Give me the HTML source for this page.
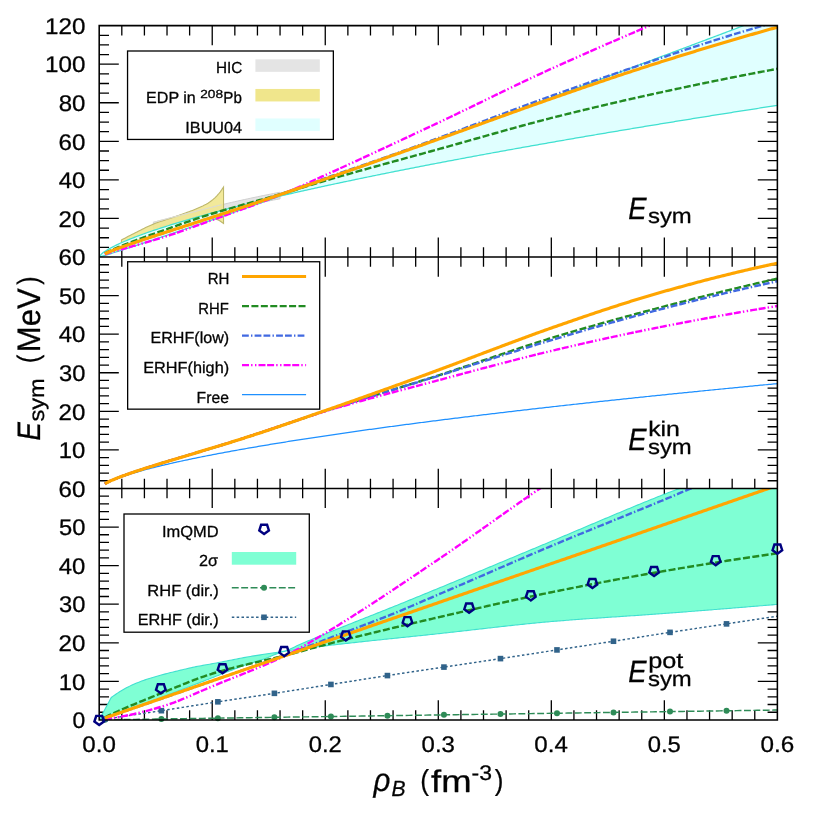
<!DOCTYPE html>
<html>
<head>
<meta charset="utf-8">
<title>Symmetry energy</title>
<style>html,body{margin:0;padding:0;background:#fff;}svg{display:block;}text{font-family:"Liberation Sans",sans-serif;text-rendering:geometricPrecision;}</style>
</head>
<body>
<svg width="817" height="817" viewBox="0 0 817 817" font-family="'Liberation Sans', sans-serif">
<rect width="817" height="817" fill="#fff"/>
<defs>
<clipPath id="c0"><rect x="99.20" y="25.64" width="678.18" height="231.40"/></clipPath>
<clipPath id="c1"><rect x="99.20" y="257.04" width="678.18" height="231.42"/></clipPath>
<clipPath id="c2"><rect x="99.20" y="488.46" width="678.18" height="231.49"/></clipPath>
</defs>
<path d="M121.81,257.04 v-9.80 M121.81,25.64 v9.80 M144.41,257.04 v-9.80 M144.41,25.64 v9.80 M167.02,257.04 v-9.80 M167.02,25.64 v9.80 M189.62,257.04 v-9.80 M189.62,25.64 v9.80 M212.23,257.04 v-19.60 M212.23,25.64 v19.60 M234.84,257.04 v-9.80 M234.84,25.64 v9.80 M257.44,257.04 v-9.80 M257.44,25.64 v9.80 M280.05,257.04 v-9.80 M280.05,25.64 v9.80 M302.65,257.04 v-9.80 M302.65,25.64 v9.80 M325.26,257.04 v-19.60 M325.26,25.64 v19.60 M347.87,257.04 v-9.80 M347.87,25.64 v9.80 M370.47,257.04 v-9.80 M370.47,25.64 v9.80 M393.08,257.04 v-9.80 M393.08,25.64 v9.80 M415.68,257.04 v-9.80 M415.68,25.64 v9.80 M438.29,257.04 v-19.60 M438.29,25.64 v19.60 M460.90,257.04 v-9.80 M460.90,25.64 v9.80 M483.50,257.04 v-9.80 M483.50,25.64 v9.80 M506.11,257.04 v-9.80 M506.11,25.64 v9.80 M528.71,257.04 v-9.80 M528.71,25.64 v9.80 M551.32,257.04 v-19.60 M551.32,25.64 v19.60 M573.93,257.04 v-9.80 M573.93,25.64 v9.80 M596.53,257.04 v-9.80 M596.53,25.64 v9.80 M619.14,257.04 v-9.80 M619.14,25.64 v9.80 M641.74,257.04 v-9.80 M641.74,25.64 v9.80 M664.35,257.04 v-19.60 M664.35,25.64 v19.60 M686.96,257.04 v-9.80 M686.96,25.64 v9.80 M709.56,257.04 v-9.80 M709.56,25.64 v9.80 M732.17,257.04 v-9.80 M732.17,25.64 v9.80 M754.77,257.04 v-9.80 M754.77,25.64 v9.80 M99.20,247.40 h9.80 M777.38,247.40 h-9.80 M99.20,237.76 h9.80 M777.38,237.76 h-9.80 M99.20,228.12 h9.80 M777.38,228.12 h-9.80 M99.20,218.47 h19.60 M777.38,218.47 h-19.60 M99.20,208.83 h9.80 M777.38,208.83 h-9.80 M99.20,199.19 h9.80 M777.38,199.19 h-9.80 M99.20,189.55 h9.80 M777.38,189.55 h-9.80 M99.20,179.91 h19.60 M777.38,179.91 h-19.60 M99.20,170.26 h9.80 M777.38,170.26 h-9.80 M99.20,160.62 h9.80 M777.38,160.62 h-9.80 M99.20,150.98 h9.80 M777.38,150.98 h-9.80 M99.20,141.34 h19.60 M777.38,141.34 h-19.60 M99.20,131.70 h9.80 M777.38,131.70 h-9.80 M99.20,122.06 h9.80 M777.38,122.06 h-9.80 M99.20,112.41 h9.80 M777.38,112.41 h-9.80 M99.20,102.77 h19.60 M777.38,102.77 h-19.60 M99.20,93.13 h9.80 M777.38,93.13 h-9.80 M99.20,83.49 h9.80 M777.38,83.49 h-9.80 M99.20,73.85 h9.80 M777.38,73.85 h-9.80 M99.20,64.21 h19.60 M777.38,64.21 h-19.60 M99.20,54.56 h9.80 M777.38,54.56 h-9.80 M99.20,44.92 h9.80 M777.38,44.92 h-9.80 M99.20,35.28 h9.80 M777.38,35.28 h-9.80 M121.81,488.46 v-9.80 M121.81,257.04 v9.80 M144.41,488.46 v-9.80 M144.41,257.04 v9.80 M167.02,488.46 v-9.80 M167.02,257.04 v9.80 M189.62,488.46 v-9.80 M189.62,257.04 v9.80 M212.23,488.46 v-19.60 M212.23,257.04 v19.60 M234.84,488.46 v-9.80 M234.84,257.04 v9.80 M257.44,488.46 v-9.80 M257.44,257.04 v9.80 M280.05,488.46 v-9.80 M280.05,257.04 v9.80 M302.65,488.46 v-9.80 M302.65,257.04 v9.80 M325.26,488.46 v-19.60 M325.26,257.04 v19.60 M347.87,488.46 v-9.80 M347.87,257.04 v9.80 M370.47,488.46 v-9.80 M370.47,257.04 v9.80 M393.08,488.46 v-9.80 M393.08,257.04 v9.80 M415.68,488.46 v-9.80 M415.68,257.04 v9.80 M438.29,488.46 v-19.60 M438.29,257.04 v19.60 M460.90,488.46 v-9.80 M460.90,257.04 v9.80 M483.50,488.46 v-9.80 M483.50,257.04 v9.80 M506.11,488.46 v-9.80 M506.11,257.04 v9.80 M528.71,488.46 v-9.80 M528.71,257.04 v9.80 M551.32,488.46 v-19.60 M551.32,257.04 v19.60 M573.93,488.46 v-9.80 M573.93,257.04 v9.80 M596.53,488.46 v-9.80 M596.53,257.04 v9.80 M619.14,488.46 v-9.80 M619.14,257.04 v9.80 M641.74,488.46 v-9.80 M641.74,257.04 v9.80 M664.35,488.46 v-19.60 M664.35,257.04 v19.60 M686.96,488.46 v-9.80 M686.96,257.04 v9.80 M709.56,488.46 v-9.80 M709.56,257.04 v9.80 M732.17,488.46 v-9.80 M732.17,257.04 v9.80 M754.77,488.46 v-9.80 M754.77,257.04 v9.80 M99.20,480.75 h9.80 M777.38,480.75 h-9.80 M99.20,473.03 h9.80 M777.38,473.03 h-9.80 M99.20,465.32 h9.80 M777.38,465.32 h-9.80 M99.20,457.60 h9.80 M777.38,457.60 h-9.80 M99.20,449.89 h19.60 M777.38,449.89 h-19.60 M99.20,442.18 h9.80 M777.38,442.18 h-9.80 M99.20,434.46 h9.80 M777.38,434.46 h-9.80 M99.20,426.75 h9.80 M777.38,426.75 h-9.80 M99.20,419.03 h9.80 M777.38,419.03 h-9.80 M99.20,411.32 h19.60 M777.38,411.32 h-19.60 M99.20,403.61 h9.80 M777.38,403.61 h-9.80 M99.20,395.89 h9.80 M777.38,395.89 h-9.80 M99.20,388.18 h9.80 M777.38,388.18 h-9.80 M99.20,380.46 h9.80 M777.38,380.46 h-9.80 M99.20,372.75 h19.60 M777.38,372.75 h-19.60 M99.20,365.04 h9.80 M777.38,365.04 h-9.80 M99.20,357.32 h9.80 M777.38,357.32 h-9.80 M99.20,349.61 h9.80 M777.38,349.61 h-9.80 M99.20,341.89 h9.80 M777.38,341.89 h-9.80 M99.20,334.18 h19.60 M777.38,334.18 h-19.60 M99.20,326.47 h9.80 M777.38,326.47 h-9.80 M99.20,318.75 h9.80 M777.38,318.75 h-9.80 M99.20,311.04 h9.80 M777.38,311.04 h-9.80 M99.20,303.32 h9.80 M777.38,303.32 h-9.80 M99.20,295.61 h19.60 M777.38,295.61 h-19.60 M99.20,287.90 h9.80 M777.38,287.90 h-9.80 M99.20,280.18 h9.80 M777.38,280.18 h-9.80 M99.20,272.47 h9.80 M777.38,272.47 h-9.80 M99.20,264.75 h9.80 M777.38,264.75 h-9.80 M121.81,719.95 v-9.80 M121.81,488.46 v9.80 M144.41,719.95 v-9.80 M144.41,488.46 v9.80 M167.02,719.95 v-9.80 M167.02,488.46 v9.80 M189.62,719.95 v-9.80 M189.62,488.46 v9.80 M212.23,719.95 v-19.60 M212.23,488.46 v19.60 M234.84,719.95 v-9.80 M234.84,488.46 v9.80 M257.44,719.95 v-9.80 M257.44,488.46 v9.80 M280.05,719.95 v-9.80 M280.05,488.46 v9.80 M302.65,719.95 v-9.80 M302.65,488.46 v9.80 M325.26,719.95 v-19.60 M325.26,488.46 v19.60 M347.87,719.95 v-9.80 M347.87,488.46 v9.80 M370.47,719.95 v-9.80 M370.47,488.46 v9.80 M393.08,719.95 v-9.80 M393.08,488.46 v9.80 M415.68,719.95 v-9.80 M415.68,488.46 v9.80 M438.29,719.95 v-19.60 M438.29,488.46 v19.60 M460.90,719.95 v-9.80 M460.90,488.46 v9.80 M483.50,719.95 v-9.80 M483.50,488.46 v9.80 M506.11,719.95 v-9.80 M506.11,488.46 v9.80 M528.71,719.95 v-9.80 M528.71,488.46 v9.80 M551.32,719.95 v-19.60 M551.32,488.46 v19.60 M573.93,719.95 v-9.80 M573.93,488.46 v9.80 M596.53,719.95 v-9.80 M596.53,488.46 v9.80 M619.14,719.95 v-9.80 M619.14,488.46 v9.80 M641.74,719.95 v-9.80 M641.74,488.46 v9.80 M664.35,719.95 v-19.60 M664.35,488.46 v19.60 M686.96,719.95 v-9.80 M686.96,488.46 v9.80 M709.56,719.95 v-9.80 M709.56,488.46 v9.80 M732.17,719.95 v-9.80 M732.17,488.46 v9.80 M754.77,719.95 v-9.80 M754.77,488.46 v9.80 M99.20,712.23 h9.80 M777.38,712.23 h-9.80 M99.20,704.52 h9.80 M777.38,704.52 h-9.80 M99.20,696.80 h9.80 M777.38,696.80 h-9.80 M99.20,689.08 h9.80 M777.38,689.08 h-9.80 M99.20,681.37 h19.60 M777.38,681.37 h-19.60 M99.20,673.65 h9.80 M777.38,673.65 h-9.80 M99.20,665.94 h9.80 M777.38,665.94 h-9.80 M99.20,658.22 h9.80 M777.38,658.22 h-9.80 M99.20,650.50 h9.80 M777.38,650.50 h-9.80 M99.20,642.79 h19.60 M777.38,642.79 h-19.60 M99.20,635.07 h9.80 M777.38,635.07 h-9.80 M99.20,627.35 h9.80 M777.38,627.35 h-9.80 M99.20,619.64 h9.80 M777.38,619.64 h-9.80 M99.20,611.92 h9.80 M777.38,611.92 h-9.80 M99.20,604.21 h19.60 M777.38,604.21 h-19.60 M99.20,596.49 h9.80 M777.38,596.49 h-9.80 M99.20,588.77 h9.80 M777.38,588.77 h-9.80 M99.20,581.06 h9.80 M777.38,581.06 h-9.80 M99.20,573.34 h9.80 M777.38,573.34 h-9.80 M99.20,565.62 h19.60 M777.38,565.62 h-19.60 M99.20,557.91 h9.80 M777.38,557.91 h-9.80 M99.20,550.19 h9.80 M777.38,550.19 h-9.80 M99.20,542.47 h9.80 M777.38,542.47 h-9.80 M99.20,534.76 h9.80 M777.38,534.76 h-9.80 M99.20,527.04 h19.60 M777.38,527.04 h-19.60 M99.20,519.33 h9.80 M777.38,519.33 h-9.80 M99.20,511.61 h9.80 M777.38,511.61 h-9.80 M99.20,503.89 h9.80 M777.38,503.89 h-9.80 M99.20,496.18 h9.80 M777.38,496.18 h-9.80" stroke="#000" stroke-width="1.30" fill="none"/>
<path d="M153.34,222.33 L156.59,221.47 L159.84,220.62 L163.09,219.76 L166.34,218.91 L169.59,218.07 L172.83,217.22 L176.08,216.38 L179.33,215.53 L182.58,214.69 L185.83,213.86 L189.08,213.02 L192.33,212.19 L195.58,211.35 L198.83,210.51 L202.07,209.67 L205.32,208.83 L208.57,208.00 L211.82,207.18 L215.07,206.36 L218.32,205.56 L221.57,204.77 L224.82,204.00 L228.07,203.23 L231.31,202.48 L234.56,201.74 L237.81,201.01 L241.06,200.29 L244.31,199.57 L247.56,198.87 L250.81,198.17 L254.06,197.48 L257.31,196.80 L260.55,196.12 L263.80,195.46 L267.05,194.80 L270.30,194.15 L273.55,193.51 L276.80,192.87 L280.05,192.25 L280.05,198.80 L276.80,199.41 L273.55,200.03 L270.30,200.66 L267.05,201.30 L263.80,201.95 L260.55,202.61 L257.31,203.27 L254.06,203.95 L250.81,204.63 L247.56,205.32 L244.31,206.03 L241.06,206.74 L237.81,207.47 L234.56,208.20 L231.31,208.94 L228.07,209.70 L224.82,210.46 L221.57,211.23 L218.32,212.01 L215.07,212.81 L211.82,213.62 L208.57,214.44 L205.32,215.26 L202.07,216.09 L198.83,216.92 L195.58,217.74 L192.33,218.57 L189.08,219.38 L185.83,220.19 L182.58,221.01 L179.33,221.82 L176.08,222.63 L172.83,223.44 L169.59,224.25 L166.34,225.06 L163.09,225.87 L159.84,226.69 L156.59,227.50 L153.34,228.31Z" fill="#e4e4e4" stroke="#cfcfcf" stroke-width="1" clip-path="url(#c0)"/>
<path d="M121.42,239.97 L123.15,239.05 L124.88,238.14 L126.61,237.23 L128.34,236.33 L130.08,235.44 L131.81,234.57 L133.54,233.69 L135.27,232.81 L137.00,231.93 L138.73,231.04 L140.46,230.17 L142.19,229.29 L143.92,228.44 L145.65,227.59 L147.38,226.77 L149.11,225.97 L150.84,225.20 L152.57,224.46 L154.30,223.76 L156.04,223.09 L157.77,222.45 L159.50,221.84 L161.23,221.25 L162.96,220.68 L164.69,220.11 L166.42,219.55 L168.15,219.00 L169.88,218.44 L171.61,217.88 L173.34,217.30 L175.07,216.70 L176.80,216.09 L178.53,215.47 L180.27,214.86 L182.00,214.25 L183.73,213.64 L185.46,213.02 L187.19,212.39 L188.92,211.76 L190.65,211.10 L192.38,210.43 L194.11,209.74 L195.84,209.03 L197.57,208.29 L199.30,207.53 L201.03,206.75 L202.76,205.95 L204.50,205.09 L206.23,204.17 L207.96,203.17 L209.69,202.05 L211.42,200.79 L213.15,199.37 L214.88,197.80 L216.61,196.10 L218.34,194.24 L220.07,192.10 L221.80,189.67 L223.53,187.04 L223.53,223.49 L221.80,222.20 L220.07,221.03 L218.34,220.08 L216.61,219.43 L214.88,219.16 L213.15,218.99 L211.42,218.85 L209.69,218.74 L207.96,218.68 L206.23,218.67 L204.50,218.74 L202.76,218.90 L201.03,219.13 L199.30,219.43 L197.57,219.77 L195.84,220.15 L194.11,220.54 L192.38,220.94 L190.65,221.34 L188.92,221.71 L187.19,222.11 L185.46,222.54 L183.73,222.99 L182.00,223.47 L180.27,223.97 L178.53,224.49 L176.80,225.02 L175.07,225.56 L173.34,226.10 L171.61,226.66 L169.88,227.21 L168.15,227.76 L166.42,228.30 L164.69,228.85 L162.96,229.41 L161.23,229.97 L159.50,230.55 L157.77,231.13 L156.04,231.71 L154.30,232.31 L152.57,232.91 L150.84,233.52 L149.11,234.13 L147.38,234.75 L145.65,235.38 L143.92,236.01 L142.19,236.65 L140.46,237.29 L138.73,237.95 L137.00,238.61 L135.27,239.28 L133.54,239.96 L131.81,240.64 L130.08,241.33 L128.34,242.03 L126.61,242.74 L124.88,243.45 L123.15,244.17 L121.42,244.89Z" fill="#f0e68c" fill-opacity="0.88" stroke="#bdb76b" stroke-width="1.1" clip-path="url(#c0)"/>
<path d="M153.34,222.33 L156.59,221.47 L159.84,220.62 L163.09,219.76 L166.34,218.91 L169.59,218.07 L172.83,217.22 L176.08,216.38 L179.33,215.53 L182.58,214.69 L185.83,213.86 L189.08,213.02 L192.33,212.19 L195.58,211.35 L198.83,210.51 L202.07,209.67 L205.32,208.83 L208.57,208.00 L211.82,207.18 L215.07,206.36 L218.32,205.56 L221.57,204.77" fill="none" stroke="#dcdcd2" stroke-width="1.1" clip-path="url(#c0)"/>
<path d="M99.20,257.04 L100.90,256.59 L102.60,256.10 L104.30,255.60 L106.00,255.10 L107.70,254.58 L109.40,254.06 L111.10,253.54 L112.80,253.01 L114.50,252.48 L116.20,251.95 L117.90,251.42 L119.60,250.88 L121.30,250.34 L123.00,249.80 L124.70,249.25 L126.40,248.70 L128.09,248.16 L129.79,247.61 L131.49,247.06 L133.19,246.50 L134.89,245.95 L136.59,245.40 L138.29,244.84 L139.99,244.28 L141.69,243.72 L143.39,243.16 L145.09,242.60 L146.79,242.04 L148.49,241.48 L150.19,240.91 L151.89,240.35 L153.59,239.78 L155.29,239.22 L156.99,238.65 L158.69,238.08 L160.39,237.51 L162.09,236.94 L163.79,236.37 L165.49,235.80 L167.19,235.23 L168.89,234.65 L170.59,234.08 L172.29,233.50 L173.99,232.93 L175.69,232.35 L177.39,231.78 L179.09,231.20 L180.79,230.62 L182.49,230.04 L184.18,229.47 L185.88,228.89 L187.58,228.31 L189.28,227.73 L190.98,227.15 L192.68,226.56 L194.38,225.98 L196.08,225.40 L197.78,224.82 L199.48,224.23 L201.18,223.65 L202.88,223.06 L204.58,222.48 L206.28,221.89 L207.98,221.31 L209.68,220.72 L211.38,220.13 L213.08,219.55 L214.78,218.96 L216.48,218.37 L218.18,217.78 L219.88,217.19 L221.58,216.60 L223.28,216.01 L224.98,215.42 L226.68,214.83 L228.38,214.24 L230.08,213.65 L231.78,213.06 L233.48,212.47 L235.18,211.87 L236.88,211.28 L238.58,210.69 L240.28,210.09 L241.97,209.50 L243.67,208.90 L245.37,208.31 L247.07,207.71 L248.77,207.12 L250.47,206.52 L252.17,205.93 L253.87,205.33 L255.57,204.73 L257.27,204.14 L258.97,203.54 L260.67,202.94 L262.37,202.34 L264.07,201.74 L265.77,201.15 L267.47,200.55 L269.17,199.95 L270.87,199.35 L272.57,198.75 L274.27,198.15 L275.97,197.55 L277.67,196.95 L279.37,196.35 L281.07,195.74 L282.77,195.14 L284.47,194.54 L286.17,193.94 L287.87,193.34 L289.57,192.73 L291.27,192.13 L292.97,191.53 L294.67,190.92 L296.37,190.32 L298.06,189.72 L299.76,189.11 L301.46,188.51 L303.16,187.90 L304.86,187.30 L306.56,186.69 L308.26,186.09 L309.96,185.48 L311.66,184.87 L313.36,184.27 L315.06,183.66 L316.76,183.05 L318.46,182.45 L320.16,181.84 L321.86,181.23 L323.56,180.62 L325.26,180.02 L326.96,179.41 L328.66,178.80 L330.36,178.19 L332.06,177.58 L333.76,176.97 L335.46,176.36 L337.16,175.75 L338.86,175.14 L340.56,174.53 L342.26,173.92 L343.96,173.31 L345.66,172.70 L347.36,172.09 L349.06,171.48 L350.76,170.87 L352.46,170.26 L354.15,169.65 L355.85,169.04 L357.55,168.42 L359.25,167.81 L360.95,167.20 L362.65,166.59 L364.35,165.97 L366.05,165.36 L367.75,164.75 L369.45,164.13 L371.15,163.52 L372.85,162.91 L374.55,162.29 L376.25,161.68 L377.95,161.06 L379.65,160.45 L381.35,159.83 L383.05,159.22 L384.75,158.60 L386.45,157.99 L388.15,157.37 L389.85,156.76 L391.55,156.14 L393.25,155.53 L394.95,154.91 L396.65,154.29 L398.35,153.68 L400.05,153.06 L401.75,152.44 L403.45,151.83 L405.15,151.21 L406.85,150.59 L408.55,149.97 L410.24,149.36 L411.94,148.74 L413.64,148.12 L415.34,147.50 L417.04,146.88 L418.74,146.26 L420.44,145.65 L422.14,145.03 L423.84,144.41 L425.54,143.79 L427.24,143.17 L428.94,142.55 L430.64,141.93 L432.34,141.31 L434.04,140.69 L435.74,140.07 L437.44,139.45 L439.14,138.83 L440.84,138.21 L442.54,137.59 L444.24,136.97 L445.94,136.34 L447.64,135.72 L449.34,135.10 L451.04,134.48 L452.74,133.86 L454.44,133.24 L456.14,132.61 L457.84,131.99 L459.54,131.37 L461.24,130.75 L462.94,130.12 L464.64,129.50 L466.34,128.88 L468.03,128.26 L469.73,127.63 L471.43,127.01 L473.13,126.39 L474.83,125.76 L476.53,125.14 L478.23,124.51 L479.93,123.89 L481.63,123.27 L483.33,122.64 L485.03,122.02 L486.73,121.39 L488.43,120.77 L490.13,120.14 L491.83,119.52 L493.53,118.89 L495.23,118.27 L496.93,117.64 L498.63,117.02 L500.33,116.39 L502.03,115.76 L503.73,115.14 L505.43,114.51 L507.13,113.89 L508.83,113.26 L510.53,112.63 L512.23,112.01 L513.93,111.38 L515.63,110.75 L517.33,110.13 L519.03,109.50 L520.73,108.87 L522.43,108.24 L524.12,107.62 L525.82,106.99 L527.52,106.36 L529.22,105.73 L530.92,105.11 L532.62,104.48 L534.32,103.85 L536.02,103.22 L537.72,102.59 L539.42,101.96 L541.12,101.34 L542.82,100.71 L544.52,100.08 L546.22,99.45 L547.92,98.82 L549.62,98.19 L551.32,97.56 L553.02,96.93 L554.72,96.30 L556.42,95.67 L558.12,95.04 L559.82,94.41 L561.52,93.78 L563.22,93.15 L564.92,92.52 L566.62,91.89 L568.32,91.26 L570.02,90.63 L571.72,90.00 L573.42,89.37 L575.12,88.74 L576.82,88.10 L578.52,87.47 L580.21,86.84 L581.91,86.21 L583.61,85.58 L585.31,84.95 L587.01,84.31 L588.71,83.68 L590.41,83.05 L592.11,82.42 L593.81,81.79 L595.51,81.15 L597.21,80.52 L598.91,79.89 L600.61,79.26 L602.31,78.62 L604.01,77.99 L605.71,77.36 L607.41,76.72 L609.11,76.09 L610.81,75.46 L612.51,74.82 L614.21,74.19 L615.91,73.56 L617.61,72.92 L619.31,72.29 L621.01,71.65 L622.71,71.02 L624.41,70.39 L626.11,69.75 L627.81,69.12 L629.51,68.48 L631.21,67.85 L632.91,67.21 L634.61,66.58 L636.30,65.94 L638.00,65.31 L639.70,64.67 L641.40,64.04 L643.10,63.40 L644.80,62.77 L646.50,62.13 L648.20,61.50 L649.90,60.86 L651.60,60.23 L653.30,59.59 L655.00,58.95 L656.70,58.32 L658.40,57.68 L660.10,57.04 L661.80,56.41 L663.50,55.77 L665.20,55.14 L666.90,54.50 L668.60,53.86 L670.30,53.22 L672.00,52.59 L673.70,51.95 L675.40,51.31 L677.10,50.68 L678.80,50.04 L680.50,49.40 L682.20,48.76 L683.90,48.13 L685.60,47.49 L687.30,46.85 L689.00,46.21 L690.70,45.57 L692.40,44.94 L694.09,44.30 L695.79,43.66 L697.49,43.02 L699.19,42.38 L700.89,41.75 L702.59,41.11 L704.29,40.47 L705.99,39.83 L707.69,39.19 L709.39,38.55 L711.09,37.91 L712.79,37.27 L714.49,36.63 L716.19,35.99 L717.89,35.35 L719.59,34.72 L721.29,34.08 L722.99,33.44 L724.69,32.80 L726.39,32.16 L728.09,31.52 L729.79,30.88 L731.49,30.24 L733.19,29.60 L734.89,28.96 L736.59,28.32 L738.29,27.67 L739.99,27.03 L741.69,26.39 L743.39,25.75 L745.09,25.11 L746.79,24.47 L748.49,23.83 L750.18,23.19 L751.88,22.55 L753.58,21.91 L755.28,21.27 L756.98,20.62 L758.68,19.98 L760.38,19.34 L762.08,18.70 L763.78,18.06 L765.48,17.42 L767.18,16.77 L768.88,16.13 L770.58,15.49 L772.28,14.85 L773.98,14.21 L775.68,13.56 L777.38,12.92 L777.38,105.35 L775.68,105.61 L773.98,105.88 L772.28,106.14 L770.58,106.40 L768.88,106.67 L767.18,106.93 L765.48,107.19 L763.78,107.46 L762.08,107.72 L760.38,107.99 L758.68,108.25 L756.98,108.51 L755.28,108.78 L753.58,109.04 L751.88,109.31 L750.18,109.58 L748.49,109.84 L746.79,110.11 L745.09,110.37 L743.39,110.64 L741.69,110.91 L739.99,111.17 L738.29,111.44 L736.59,111.71 L734.89,111.98 L733.19,112.24 L731.49,112.51 L729.79,112.78 L728.09,113.05 L726.39,113.32 L724.69,113.59 L722.99,113.85 L721.29,114.12 L719.59,114.39 L717.89,114.66 L716.19,114.93 L714.49,115.20 L712.79,115.47 L711.09,115.74 L709.39,116.02 L707.69,116.29 L705.99,116.56 L704.29,116.83 L702.59,117.10 L700.89,117.37 L699.19,117.65 L697.49,117.92 L695.79,118.19 L694.09,118.46 L692.40,118.74 L690.70,119.01 L689.00,119.29 L687.30,119.56 L685.60,119.83 L683.90,120.11 L682.20,120.38 L680.50,120.66 L678.80,120.93 L677.10,121.21 L675.40,121.48 L673.70,121.76 L672.00,122.04 L670.30,122.31 L668.60,122.59 L666.90,122.87 L665.20,123.14 L663.50,123.42 L661.80,123.70 L660.10,123.98 L658.40,124.26 L656.70,124.53 L655.00,124.81 L653.30,125.09 L651.60,125.37 L649.90,125.65 L648.20,125.93 L646.50,126.21 L644.80,126.49 L643.10,126.77 L641.40,127.05 L639.70,127.34 L638.00,127.62 L636.30,127.90 L634.61,128.18 L632.91,128.46 L631.21,128.75 L629.51,129.03 L627.81,129.31 L626.11,129.60 L624.41,129.88 L622.71,130.16 L621.01,130.45 L619.31,130.73 L617.61,131.02 L615.91,131.30 L614.21,131.59 L612.51,131.87 L610.81,132.16 L609.11,132.45 L607.41,132.73 L605.71,133.02 L604.01,133.31 L602.31,133.60 L600.61,133.88 L598.91,134.17 L597.21,134.46 L595.51,134.75 L593.81,135.04 L592.11,135.33 L590.41,135.62 L588.71,135.91 L587.01,136.20 L585.31,136.49 L583.61,136.78 L581.91,137.07 L580.21,137.36 L578.52,137.65 L576.82,137.95 L575.12,138.24 L573.42,138.53 L571.72,138.83 L570.02,139.12 L568.32,139.41 L566.62,139.71 L564.92,140.00 L563.22,140.30 L561.52,140.59 L559.82,140.89 L558.12,141.18 L556.42,141.48 L554.72,141.78 L553.02,142.07 L551.32,142.37 L549.62,142.67 L547.92,142.97 L546.22,143.26 L544.52,143.56 L542.82,143.86 L541.12,144.16 L539.42,144.46 L537.72,144.76 L536.02,145.06 L534.32,145.36 L532.62,145.66 L530.92,145.97 L529.22,146.27 L527.52,146.57 L525.82,146.87 L524.12,147.18 L522.43,147.48 L520.73,147.78 L519.03,148.09 L517.33,148.39 L515.63,148.70 L513.93,149.00 L512.23,149.31 L510.53,149.61 L508.83,149.92 L507.13,150.23 L505.43,150.53 L503.73,150.84 L502.03,151.15 L500.33,151.46 L498.63,151.77 L496.93,152.08 L495.23,152.39 L493.53,152.70 L491.83,153.01 L490.13,153.32 L488.43,153.63 L486.73,153.94 L485.03,154.25 L483.33,154.57 L481.63,154.88 L479.93,155.19 L478.23,155.51 L476.53,155.82 L474.83,156.14 L473.13,156.45 L471.43,156.77 L469.73,157.08 L468.03,157.40 L466.34,157.72 L464.64,158.03 L462.94,158.35 L461.24,158.67 L459.54,158.99 L457.84,159.31 L456.14,159.63 L454.44,159.95 L452.74,160.27 L451.04,160.59 L449.34,160.91 L447.64,161.23 L445.94,161.56 L444.24,161.88 L442.54,162.20 L440.84,162.53 L439.14,162.85 L437.44,163.18 L435.74,163.50 L434.04,163.83 L432.34,164.16 L430.64,164.48 L428.94,164.81 L427.24,165.14 L425.54,165.47 L423.84,165.80 L422.14,166.13 L420.44,166.46 L418.74,166.79 L417.04,167.12 L415.34,167.45 L413.64,167.79 L411.94,168.12 L410.24,168.45 L408.55,168.79 L406.85,169.12 L405.15,169.46 L403.45,169.79 L401.75,170.13 L400.05,170.47 L398.35,170.81 L396.65,171.14 L394.95,171.48 L393.25,171.82 L391.55,172.16 L389.85,172.50 L388.15,172.84 L386.45,173.19 L384.75,173.53 L383.05,173.87 L381.35,174.22 L379.65,174.56 L377.95,174.91 L376.25,175.25 L374.55,175.60 L372.85,175.95 L371.15,176.29 L369.45,176.64 L367.75,176.99 L366.05,177.34 L364.35,177.69 L362.65,178.04 L360.95,178.40 L359.25,178.75 L357.55,179.10 L355.85,179.46 L354.15,179.81 L352.46,180.17 L350.76,180.52 L349.06,180.88 L347.36,181.24 L345.66,181.60 L343.96,181.96 L342.26,182.32 L340.56,182.68 L338.86,183.04 L337.16,183.40 L335.46,183.76 L333.76,184.13 L332.06,184.49 L330.36,184.86 L328.66,185.23 L326.96,185.59 L325.26,185.96 L323.56,186.33 L321.86,186.70 L320.16,187.07 L318.46,187.44 L316.76,187.82 L315.06,188.19 L313.36,188.56 L311.66,188.94 L309.96,189.32 L308.26,189.69 L306.56,190.07 L304.86,190.45 L303.16,190.83 L301.46,191.21 L299.76,191.59 L298.06,191.98 L296.37,192.36 L294.67,192.75 L292.97,193.13 L291.27,193.52 L289.57,193.91 L287.87,194.30 L286.17,194.69 L284.47,195.08 L282.77,195.47 L281.07,195.87 L279.37,196.26 L277.67,196.66 L275.97,197.06 L274.27,197.45 L272.57,197.85 L270.87,198.26 L269.17,198.66 L267.47,199.06 L265.77,199.47 L264.07,199.87 L262.37,200.28 L260.67,200.69 L258.97,201.10 L257.27,201.51 L255.57,201.92 L253.87,202.34 L252.17,202.75 L250.47,203.17 L248.77,203.59 L247.07,204.01 L245.37,204.43 L243.67,204.85 L241.97,205.28 L240.28,205.70 L238.58,206.13 L236.88,206.56 L235.18,206.99 L233.48,207.42 L231.78,207.86 L230.08,208.29 L228.38,208.73 L226.68,209.17 L224.98,209.61 L223.28,210.05 L221.58,210.50 L219.88,210.95 L218.18,211.39 L216.48,211.85 L214.78,212.30 L213.08,212.75 L211.38,213.21 L209.68,213.67 L207.98,214.13 L206.28,214.60 L204.58,215.06 L202.88,215.53 L201.18,216.00 L199.48,216.47 L197.78,216.95 L196.08,217.43 L194.38,217.91 L192.68,218.39 L190.98,218.88 L189.28,219.37 L187.58,219.86 L185.88,220.35 L184.18,220.85 L182.49,221.35 L180.79,221.86 L179.09,222.36 L177.39,222.87 L175.69,223.39 L173.99,223.91 L172.29,224.43 L170.59,224.95 L168.89,225.48 L167.19,226.02 L165.49,226.55 L163.79,227.09 L162.09,227.64 L160.39,228.19 L158.69,228.75 L156.99,229.31 L155.29,229.87 L153.59,230.44 L151.89,231.02 L150.19,231.60 L148.49,232.19 L146.79,232.78 L145.09,233.39 L143.39,233.99 L141.69,234.61 L139.99,235.23 L138.29,235.86 L136.59,236.50 L134.89,237.15 L133.19,237.81 L131.49,238.48 L129.79,239.16 L128.09,239.85 L126.40,240.55 L124.70,241.27 L123.00,242.00 L121.30,242.75 L119.60,243.52 L117.90,244.31 L116.20,245.12 L114.50,245.96 L112.80,246.82 L111.10,247.72 L109.40,248.66 L107.70,249.65 L106.00,250.71 L104.30,251.85 L102.60,253.11 L100.90,254.61 L99.20,257.04Z" fill="#e0ffff" stroke="#40e0d0" stroke-width="1.25" clip-path="url(#c0)"/>
<path d="M99.20,719.95 L100.90,716.79 L102.60,713.63 L104.30,710.47 L106.00,707.31 L107.70,704.14 L109.40,700.98 L111.10,697.82 L111.29,697.46 L112.80,696.38 L114.50,695.19 L116.20,694.03 L117.90,692.91 L119.60,691.82 L121.30,690.77 L123.00,689.76 L124.70,688.78 L126.40,687.85 L128.09,686.97 L129.79,686.13 L131.49,685.32 L133.19,684.55 L134.89,683.80 L136.59,683.09 L138.29,682.40 L139.99,681.73 L141.69,681.09 L143.39,680.47 L145.09,679.87 L146.79,679.28 L148.49,678.72 L150.19,678.19 L151.89,677.67 L153.59,677.16 L155.29,676.67 L156.99,676.20 L158.69,675.73 L160.39,675.26 L162.09,674.81 L163.79,674.35 L165.49,673.90 L167.19,673.46 L168.89,673.02 L170.59,672.59 L172.29,672.17 L173.99,671.76 L175.69,671.35 L177.39,670.94 L179.09,670.53 L180.79,670.13 L182.49,669.73 L184.18,669.33 L185.88,668.93 L187.58,668.54 L189.28,668.15 L190.98,667.76 L192.68,667.39 L194.38,667.02 L196.08,666.66 L197.78,666.32 L199.48,665.99 L201.18,665.67 L202.88,665.36 L204.58,665.06 L206.28,664.76 L207.98,664.47 L209.68,664.17 L211.38,663.88 L213.08,663.58 L214.78,663.27 L216.48,662.95 L218.18,662.63 L219.88,662.30 L221.58,661.98 L223.28,661.65 L224.98,661.32 L226.68,660.99 L228.38,660.65 L230.08,660.32 L231.78,659.99 L233.48,659.66 L235.18,659.33 L236.88,659.00 L238.58,658.66 L240.28,658.33 L241.97,657.99 L243.67,657.66 L245.37,657.34 L247.07,657.02 L248.77,656.73 L250.47,656.44 L252.17,656.16 L253.87,655.89 L255.57,655.63 L257.27,655.37 L258.97,655.11 L260.67,654.85 L262.37,654.58 L264.07,654.32 L265.77,654.05 L267.47,653.79 L269.17,653.55 L270.87,653.32 L272.57,653.08 L274.27,652.85 L275.97,652.60 L277.67,652.33 L279.37,652.05 L281.07,651.73 L282.77,651.39 L284.47,651.00 L286.17,650.52 L287.87,649.93 L289.57,649.27 L291.27,648.53 L292.97,647.75 L294.67,646.93 L296.37,646.10 L298.06,645.27 L299.76,644.46 L301.46,643.69 L303.16,642.96 L304.86,642.25 L306.56,641.55 L308.26,640.84 L309.96,640.14 L311.66,639.45 L313.36,638.75 L315.06,638.06 L316.76,637.36 L318.46,636.67 L320.16,635.98 L321.86,635.29 L323.56,634.60 L325.26,633.91 L326.96,633.22 L328.66,632.53 L330.36,631.85 L332.06,631.16 L333.76,630.47 L335.46,629.79 L337.16,629.11 L338.86,628.42 L340.56,627.74 L342.26,627.06 L343.96,626.38 L345.66,625.69 L347.36,625.01 L349.06,624.33 L350.76,623.65 L352.46,622.98 L354.15,622.30 L355.85,621.62 L357.55,620.95 L359.25,620.28 L360.95,619.60 L362.65,618.93 L364.35,618.26 L366.05,617.59 L367.75,616.92 L369.45,616.24 L371.15,615.57 L372.85,614.90 L374.55,614.23 L376.25,613.56 L377.95,612.88 L379.65,612.21 L381.35,611.53 L383.05,610.86 L384.75,610.18 L386.45,609.50 L388.15,608.82 L389.85,608.13 L391.55,607.45 L393.25,606.77 L394.95,606.08 L396.65,605.39 L398.35,604.71 L400.05,604.02 L401.75,603.33 L403.45,602.64 L405.15,601.95 L406.85,601.26 L408.55,600.57 L410.24,599.88 L411.94,599.18 L413.64,598.49 L415.34,597.80 L417.04,597.10 L418.74,596.41 L420.44,595.71 L422.14,595.02 L423.84,594.32 L425.54,593.62 L427.24,592.93 L428.94,592.23 L430.64,591.53 L432.34,590.83 L434.04,590.13 L435.74,589.44 L437.44,588.74 L439.14,588.04 L440.84,587.34 L442.54,586.64 L444.24,585.94 L445.94,585.23 L447.64,584.53 L449.34,583.83 L451.04,583.13 L452.74,582.43 L454.44,581.72 L456.14,581.02 L457.84,580.31 L459.54,579.61 L461.24,578.90 L462.94,578.20 L464.64,577.49 L466.34,576.79 L468.03,576.08 L469.73,575.37 L471.43,574.67 L473.13,573.96 L474.83,573.25 L476.53,572.54 L478.23,571.84 L479.93,571.13 L481.63,570.42 L483.33,569.71 L485.03,569.00 L486.73,568.29 L488.43,567.58 L490.13,566.87 L491.83,566.16 L493.53,565.45 L495.23,564.74 L496.93,564.03 L498.63,563.32 L500.33,562.61 L502.03,561.90 L503.73,561.19 L505.43,560.48 L507.13,559.77 L508.83,559.06 L510.53,558.35 L512.23,557.64 L513.93,556.93 L515.63,556.22 L517.33,555.51 L519.03,554.80 L520.73,554.09 L522.43,553.38 L524.12,552.67 L525.82,551.96 L527.52,551.25 L529.22,550.54 L530.92,549.83 L532.62,549.12 L534.32,548.41 L536.02,547.70 L537.72,546.99 L539.42,546.28 L541.12,545.57 L542.82,544.86 L544.52,544.15 L546.22,543.44 L547.92,542.73 L549.62,542.02 L551.32,541.32 L553.02,540.61 L554.72,539.90 L556.42,539.19 L558.12,538.48 L559.82,537.76 L561.52,537.05 L563.22,536.34 L564.92,535.62 L566.62,534.91 L568.32,534.19 L570.02,533.47 L571.72,532.76 L573.42,532.04 L575.12,531.32 L576.82,530.60 L578.52,529.88 L580.21,529.16 L581.91,528.44 L583.61,527.72 L585.31,527.00 L587.01,526.28 L588.71,525.56 L590.41,524.84 L592.11,524.12 L593.81,523.40 L595.51,522.68 L597.21,521.96 L598.91,521.24 L600.61,520.52 L602.31,519.80 L604.01,519.08 L605.71,518.37 L607.41,517.65 L609.11,516.93 L610.81,516.21 L612.51,515.50 L614.21,514.78 L615.91,514.07 L617.61,513.35 L619.31,512.64 L621.01,511.93 L622.71,511.22 L624.41,510.51 L626.11,509.80 L627.81,509.09 L629.51,508.39 L631.21,507.68 L632.91,506.98 L634.61,506.28 L636.30,505.57 L638.00,504.87 L639.70,504.18 L641.40,503.48 L643.10,502.78 L644.80,502.09 L646.50,501.40 L648.20,500.71 L649.90,500.02 L651.60,499.33 L653.30,498.65 L655.00,497.97 L656.70,497.28 L658.40,496.61 L660.10,495.93 L661.80,495.25 L663.50,494.58 L665.20,493.91 L666.90,493.25 L668.60,492.60 L670.30,491.95 L672.00,491.31 L673.70,490.67 L675.40,490.03 L677.10,489.38 L678.80,488.73 L680.50,488.07 L682.20,487.42 L683.90,486.76 L685.60,486.10 L687.30,485.44 L689.00,484.78 L690.70,484.12 L692.40,483.46 L694.09,482.81 L695.79,482.15 L697.49,481.49 L699.19,480.82 L700.89,480.16 L702.59,479.50 L704.29,478.84 L705.99,478.18 L707.69,477.52 L709.39,476.85 L711.09,476.19 L712.79,475.52 L714.49,474.86 L716.19,474.20 L717.89,473.53 L719.59,472.86 L721.29,472.20 L722.99,471.53 L724.69,470.86 L726.39,470.20 L728.09,469.53 L729.79,468.86 L731.49,468.19 L733.19,467.52 L734.89,466.85 L736.59,466.18 L738.29,465.51 L739.99,464.83 L741.69,464.16 L743.39,463.49 L745.09,462.81 L746.79,462.14 L748.49,461.46 L750.18,460.79 L751.88,460.11 L753.58,459.43 L755.28,458.76 L756.98,458.08 L758.68,457.40 L760.38,456.72 L762.08,456.04 L763.78,455.36 L765.48,454.67 L767.18,453.99 L768.88,453.31 L770.58,452.62 L772.28,451.94 L773.98,451.25 L775.68,450.57 L777.38,449.88 L777.38,604.40 L775.68,604.54 L773.98,604.68 L772.28,604.83 L770.58,604.97 L768.88,605.11 L767.18,605.26 L765.48,605.40 L763.78,605.54 L762.08,605.68 L760.38,605.82 L758.68,605.96 L756.98,606.11 L755.28,606.25 L753.58,606.39 L751.88,606.53 L750.18,606.67 L748.49,606.81 L746.79,606.95 L745.09,607.09 L743.39,607.23 L741.69,607.37 L739.99,607.51 L738.29,607.64 L736.59,607.78 L734.89,607.92 L733.19,608.06 L731.49,608.20 L729.79,608.34 L728.09,608.47 L726.39,608.61 L724.69,608.75 L722.99,608.88 L721.29,609.02 L719.59,609.16 L717.89,609.29 L716.19,609.43 L714.49,609.57 L712.79,609.70 L711.09,609.84 L709.39,609.97 L707.69,610.11 L705.99,610.24 L704.29,610.37 L702.59,610.51 L700.89,610.64 L699.19,610.78 L697.49,610.91 L695.79,611.04 L694.09,611.18 L692.40,611.31 L690.70,611.44 L689.00,611.57 L687.30,611.71 L685.60,611.84 L683.90,611.97 L682.20,612.10 L680.50,612.23 L678.80,612.36 L677.10,612.49 L675.40,612.62 L673.70,612.75 L672.00,612.88 L670.30,613.01 L668.60,613.14 L666.90,613.27 L665.20,613.40 L663.50,613.53 L661.80,613.66 L660.10,613.78 L658.40,613.91 L656.70,614.03 L655.00,614.16 L653.30,614.28 L651.60,614.40 L649.90,614.52 L648.20,614.64 L646.50,614.76 L644.80,614.88 L643.10,615.00 L641.40,615.11 L639.70,615.23 L638.00,615.35 L636.30,615.46 L634.61,615.58 L632.91,615.69 L631.21,615.81 L629.51,615.92 L627.81,616.04 L626.11,616.15 L624.41,616.26 L622.71,616.38 L621.01,616.49 L619.31,616.60 L617.61,616.72 L615.91,616.83 L614.21,616.94 L612.51,617.06 L610.81,617.17 L609.11,617.28 L607.41,617.40 L605.71,617.51 L604.01,617.63 L602.31,617.74 L600.61,617.86 L598.91,617.97 L597.21,618.09 L595.51,618.21 L593.81,618.32 L592.11,618.44 L590.41,618.56 L588.71,618.68 L587.01,618.80 L585.31,618.92 L583.61,619.04 L581.91,619.16 L580.21,619.29 L578.52,619.41 L576.82,619.54 L575.12,619.66 L573.42,619.79 L571.72,619.92 L570.02,620.05 L568.32,620.18 L566.62,620.31 L564.92,620.45 L563.22,620.58 L561.52,620.72 L559.82,620.86 L558.12,620.99 L556.42,621.14 L554.72,621.28 L553.02,621.42 L551.32,621.57 L549.62,621.71 L547.92,621.86 L546.22,622.02 L544.52,622.17 L542.82,622.32 L541.12,622.48 L539.42,622.64 L537.72,622.80 L536.02,622.97 L534.32,623.13 L532.62,623.30 L530.92,623.47 L529.22,623.64 L527.52,623.81 L525.82,623.98 L524.12,624.15 L522.43,624.33 L520.73,624.51 L519.03,624.68 L517.33,624.86 L515.63,625.05 L513.93,625.23 L512.23,625.41 L510.53,625.59 L508.83,625.78 L507.13,625.97 L505.43,626.15 L503.73,626.34 L502.03,626.53 L500.33,626.72 L498.63,626.91 L496.93,627.10 L495.23,627.29 L493.53,627.48 L491.83,627.68 L490.13,627.87 L488.43,628.06 L486.73,628.26 L485.03,628.45 L483.33,628.64 L481.63,628.84 L479.93,629.03 L478.23,629.23 L476.53,629.42 L474.83,629.62 L473.13,629.81 L471.43,630.01 L469.73,630.20 L468.03,630.40 L466.34,630.59 L464.64,630.79 L462.94,630.98 L461.24,631.17 L459.54,631.37 L457.84,631.56 L456.14,631.75 L454.44,631.94 L452.74,632.13 L451.04,632.32 L449.34,632.51 L447.64,632.70 L445.94,632.89 L444.24,633.07 L442.54,633.26 L440.84,633.44 L439.14,633.63 L437.44,633.81 L435.74,633.99 L434.04,634.18 L432.34,634.36 L430.64,634.54 L428.94,634.72 L427.24,634.90 L425.54,635.08 L423.84,635.25 L422.14,635.43 L420.44,635.61 L418.74,635.79 L417.04,635.97 L415.34,636.14 L413.64,636.32 L411.94,636.50 L410.24,636.67 L408.55,636.85 L406.85,637.03 L405.15,637.20 L403.45,637.38 L401.75,637.56 L400.05,637.73 L398.35,637.91 L396.65,638.08 L394.95,638.26 L393.25,638.44 L391.55,638.61 L389.85,638.79 L388.15,638.97 L386.45,639.14 L384.75,639.32 L383.05,639.50 L381.35,639.68 L379.65,639.85 L377.95,640.03 L376.25,640.21 L374.55,640.39 L372.85,640.57 L371.15,640.75 L369.45,640.93 L367.75,641.11 L366.05,641.29 L364.35,641.47 L362.65,641.66 L360.95,641.84 L359.25,642.02 L357.55,642.21 L355.85,642.39 L354.15,642.58 L352.46,642.77 L350.76,642.95 L349.06,643.14 L347.36,643.33 L345.66,643.52 L343.96,643.71 L342.26,643.90 L340.56,644.10 L338.86,644.29 L337.16,644.48 L335.46,644.68 L333.76,644.87 L332.06,645.07 L330.36,645.27 L328.66,645.47 L326.96,645.67 L325.26,645.87 L323.56,646.08 L321.86,646.28 L320.16,646.49 L318.46,646.70 L316.76,646.91 L315.06,647.13 L313.36,647.35 L311.66,647.57 L309.96,647.79 L308.26,648.01 L306.56,648.24 L304.86,648.47 L303.16,648.70 L301.46,648.93 L299.76,649.14 L298.06,649.36 L296.37,649.57 L294.67,649.78 L292.97,650.00 L291.27,650.24 L289.57,650.49 L287.87,650.76 L286.17,651.06 L284.47,651.40 L282.77,651.78 L281.07,652.26 L279.37,652.82 L277.67,653.45 L275.97,654.13 L274.27,654.83 L272.57,655.56 L270.87,656.29 L269.17,657.00 L267.47,657.69 L265.77,658.34 L264.07,658.93 L262.37,659.50 L260.67,660.05 L258.97,660.59 L257.27,661.13 L255.57,661.65 L253.87,662.18 L252.17,662.72 L250.47,663.26 L248.77,663.81 L247.07,664.38 L245.37,664.96 L243.67,665.57 L241.97,666.19 L240.28,666.83 L238.58,667.48 L236.88,668.13 L235.18,668.79 L233.48,669.45 L231.78,670.12 L230.08,670.77 L228.38,671.43 L226.68,672.09 L224.98,672.76 L223.28,673.43 L221.58,674.10 L219.88,674.77 L218.18,675.44 L216.48,676.11 L214.78,676.77 L213.08,677.44 L211.38,678.10 L209.68,678.76 L207.98,679.42 L206.28,680.08 L204.58,680.74 L202.88,681.40 L201.18,682.06 L199.48,682.72 L197.78,683.38 L196.08,684.03 L194.38,684.69 L192.68,685.35 L190.98,686.00 L189.28,686.66 L187.58,687.31 L185.88,687.97 L184.18,688.62 L182.49,689.28 L180.79,689.93 L179.09,690.59 L177.39,691.24 L175.69,691.90 L173.99,692.55 L172.29,693.21 L170.59,693.86 L168.89,694.51 L167.19,695.16 L165.49,695.81 L163.79,696.46 L162.09,697.11 L160.39,697.75 L158.69,698.39 L156.99,699.03 L155.29,699.66 L153.59,700.29 L151.89,700.93 L150.19,701.56 L148.49,702.19 L146.79,702.82 L145.09,703.44 L143.39,704.07 L141.69,704.70 L139.99,705.32 L138.29,705.95 L136.59,706.57 L134.89,707.19 L133.19,707.81 L131.49,708.43 L129.79,709.05 L128.09,709.67 L126.40,710.28 L124.70,710.90 L123.00,711.51 L121.30,712.12 L119.60,712.73 L117.90,713.34 L116.20,713.95 L114.50,714.56 L112.80,715.16 L111.29,715.70 L111.10,715.77 L109.40,716.37 L107.70,716.97 L106.00,717.57 L104.30,718.17 L102.60,718.76 L100.90,719.36 L99.20,719.95Z" fill="#7fffd4" stroke="#40e0d0" stroke-width="1.1" clip-path="url(#c2)"/>
<path d="M104.85,253.34 L106.54,252.49 L108.22,251.67 L109.91,250.88 L111.59,250.11 L113.28,249.36 L114.96,248.62 L116.65,247.90 L118.34,247.19 L120.02,246.49 L121.71,245.80 L123.39,245.12 L125.08,244.44 L126.76,243.78 L128.45,243.12 L130.13,242.47 L131.82,241.82 L133.51,241.18 L135.19,240.54 L136.88,239.91 L138.56,239.28 L140.25,238.65 L141.93,238.03 L143.62,237.42 L145.30,236.80 L146.99,236.19 L148.68,235.58 L150.36,234.98 L152.05,234.37 L153.73,233.77 L155.42,233.17 L157.10,232.57 L158.79,231.98 L160.47,231.38 L162.16,230.79 L163.85,230.19 L165.53,229.60 L167.22,229.01 L168.90,228.41 L170.59,227.81 L172.27,227.21 L173.96,226.61 L175.64,226.02 L177.33,225.42 L179.02,224.82 L180.70,224.22 L182.39,223.63 L184.07,223.03 L185.76,222.44 L187.44,221.85 L189.13,221.26 L190.81,220.68 L192.50,220.10 L194.18,219.52 L195.87,218.94 L197.56,218.37 L199.24,217.81 L200.93,217.25 L202.61,216.70 L204.30,216.15 L205.98,215.60 L207.67,215.07 L209.35,214.54 L211.04,214.02 L212.73,213.50 L214.41,212.99 L216.10,212.48 L217.78,211.98 L219.47,211.48 L221.15,210.98 L222.84,210.49 L224.52,210.00 L226.21,209.51 L227.90,209.02 L229.58,208.54 L231.27,208.06 L232.95,207.58 L234.64,207.10 L236.32,206.62 L238.01,206.15 L239.69,205.67 L241.38,205.20 L243.07,204.73 L244.75,204.25 L246.44,203.78 L248.12,203.31 L249.81,202.84 L251.49,202.37 L253.18,201.90 L254.86,201.43 L256.55,200.96 L258.24,200.49 L259.92,200.02 L261.61,199.54 L263.29,199.07 L264.98,198.59 L266.66,198.12 L268.35,197.64 L270.03,197.16 L271.72,196.68 L273.41,196.20 L275.09,195.72 L276.78,195.23 L278.46,194.75 L280.15,194.26 L281.83,193.76 L283.52,193.27 L285.20,192.77 L286.89,192.27 L288.57,191.77 L290.26,191.27 L291.95,190.76 L293.63,190.25 L295.32,189.74 L297.00,189.23 L298.69,188.71 L300.37,188.20 L302.06,187.68 L303.74,187.16 L305.43,186.65 L307.12,186.13 L308.80,185.61 L310.49,185.10 L312.17,184.59 L313.86,184.07 L315.54,183.56 L317.23,183.06 L318.91,182.55 L320.60,182.05 L322.29,181.55 L323.97,181.05 L325.66,180.56 L327.34,180.07 L329.03,179.58 L330.71,179.10 L332.40,178.61 L334.08,178.12 L335.77,177.64 L337.46,177.16 L339.14,176.67 L340.83,176.19 L342.51,175.71 L344.20,175.23 L345.88,174.75 L347.57,174.27 L349.25,173.80 L350.94,173.32 L352.63,172.84 L354.31,172.37 L356.00,171.89 L357.68,171.42 L359.37,170.95 L361.05,170.48 L362.74,170.01 L364.42,169.54 L366.11,169.07 L367.79,168.60 L369.48,168.13 L371.17,167.66 L372.85,167.20 L374.54,166.73 L376.22,166.27 L377.91,165.80 L379.59,165.34 L381.28,164.87 L382.96,164.41 L384.65,163.95 L386.34,163.48 L388.02,163.02 L389.71,162.56 L391.39,162.10 L393.08,161.64 L394.76,161.18 L396.45,160.72 L398.13,160.26 L399.82,159.80 L401.51,159.34 L403.19,158.88 L404.88,158.42 L406.56,157.95 L408.25,157.49 L409.93,157.03 L411.62,156.57 L413.30,156.11 L414.99,155.65 L416.68,155.19 L418.36,154.73 L420.05,154.27 L421.73,153.81 L423.42,153.35 L425.10,152.88 L426.79,152.42 L428.47,151.96 L430.16,151.49 L431.85,151.03 L433.53,150.56 L435.22,150.10 L436.90,149.63 L438.59,149.16 L440.27,148.70 L441.96,148.23 L443.64,147.76 L445.33,147.29 L447.02,146.81 L448.70,146.34 L450.39,145.87 L452.07,145.40 L453.76,144.92 L455.44,144.45 L457.13,143.98 L458.81,143.50 L460.50,143.03 L462.18,142.55 L463.87,142.07 L465.56,141.60 L467.24,141.12 L468.93,140.64 L470.61,140.17 L472.30,139.69 L473.98,139.21 L475.67,138.73 L477.35,138.26 L479.04,137.78 L480.73,137.30 L482.41,136.83 L484.10,136.35 L485.78,135.87 L487.47,135.40 L489.15,134.92 L490.84,134.44 L492.52,133.97 L494.21,133.49 L495.90,133.02 L497.58,132.54 L499.27,132.07 L500.95,131.60 L502.64,131.12 L504.32,130.65 L506.01,130.18 L507.69,129.71 L509.38,129.24 L511.07,128.78 L512.75,128.31 L514.44,127.84 L516.12,127.38 L517.81,126.91 L519.49,126.45 L521.18,125.99 L522.86,125.53 L524.55,125.07 L526.24,124.61 L527.92,124.16 L529.61,123.70 L531.29,123.25 L532.98,122.80 L534.66,122.35 L536.35,121.90 L538.03,121.45 L539.72,121.01 L541.41,120.57 L543.09,120.13 L544.78,119.69 L546.46,119.25 L548.15,118.82 L549.83,118.39 L551.52,117.96 L553.20,117.53 L554.89,117.10 L556.57,116.68 L558.26,116.25 L559.95,115.83 L561.63,115.41 L563.32,114.99 L565.00,114.57 L566.69,114.15 L568.37,113.73 L570.06,113.31 L571.74,112.90 L573.43,112.48 L575.12,112.07 L576.80,111.66 L578.49,111.25 L580.17,110.84 L581.86,110.43 L583.54,110.02 L585.23,109.62 L586.91,109.21 L588.60,108.81 L590.29,108.40 L591.97,108.00 L593.66,107.60 L595.34,107.20 L597.03,106.80 L598.71,106.40 L600.40,106.00 L602.08,105.61 L603.77,105.21 L605.46,104.82 L607.14,104.42 L608.83,104.03 L610.51,103.64 L612.20,103.25 L613.88,102.86 L615.57,102.47 L617.25,102.09 L618.94,101.70 L620.63,101.31 L622.31,100.93 L624.00,100.54 L625.68,100.16 L627.37,99.78 L629.05,99.40 L630.74,99.02 L632.42,98.64 L634.11,98.26 L635.80,97.88 L637.48,97.50 L639.17,97.13 L640.85,96.75 L642.54,96.38 L644.22,96.00 L645.91,95.63 L647.59,95.26 L649.28,94.88 L650.96,94.51 L652.65,94.14 L654.34,93.77 L656.02,93.40 L657.71,93.03 L659.39,92.67 L661.08,92.30 L662.76,91.93 L664.45,91.57 L666.13,91.20 L667.82,90.84 L669.51,90.47 L671.19,90.11 L672.88,89.75 L674.56,89.39 L676.25,89.03 L677.93,88.67 L679.62,88.31 L681.30,87.95 L682.99,87.59 L684.68,87.23 L686.36,86.87 L688.05,86.52 L689.73,86.16 L691.42,85.81 L693.10,85.46 L694.79,85.10 L696.47,84.75 L698.16,84.40 L699.85,84.05 L701.53,83.70 L703.22,83.35 L704.90,83.00 L706.59,82.65 L708.27,82.31 L709.96,81.96 L711.64,81.62 L713.33,81.27 L715.02,80.93 L716.70,80.59 L718.39,80.24 L720.07,79.90 L721.76,79.56 L723.44,79.22 L725.13,78.88 L726.81,78.55 L728.50,78.21 L730.19,77.87 L731.87,77.54 L733.56,77.21 L735.24,76.87 L736.93,76.54 L738.61,76.21 L740.30,75.88 L741.98,75.55 L743.67,75.22 L745.35,74.89 L747.04,74.56 L748.73,74.24 L750.41,73.91 L752.10,73.59 L753.78,73.26 L755.47,72.94 L757.15,72.62 L758.84,72.30 L760.52,71.98 L762.21,71.66 L763.90,71.34 L765.58,71.03 L767.27,70.71 L768.95,70.40 L770.64,70.08 L772.32,69.77 L774.01,69.46 L775.69,69.14 L777.38,68.83" fill="none" stroke="#228b22" stroke-width="2.40" stroke-dasharray="7.0,2.42" clip-path="url(#c0)"/>
<path d="M104.85,253.72 L106.54,252.98 L108.22,252.28 L109.91,251.59 L111.59,250.92 L113.28,250.27 L114.96,249.63 L116.65,249.00 L118.34,248.38 L120.02,247.77 L121.71,247.17 L123.39,246.57 L125.08,245.97 L126.76,245.38 L128.45,244.79 L130.13,244.21 L131.82,243.63 L133.51,243.06 L135.19,242.49 L136.88,241.92 L138.56,241.35 L140.25,240.78 L141.93,240.22 L143.62,239.66 L145.30,239.10 L146.99,238.54 L148.68,237.98 L150.36,237.43 L152.05,236.88 L153.73,236.32 L155.42,235.77 L157.10,235.22 L158.79,234.67 L160.47,234.12 L162.16,233.57 L163.85,233.02 L165.53,232.47 L167.22,231.92 L168.90,231.38 L170.59,230.83 L172.27,230.28 L173.96,229.74 L175.64,229.19 L177.33,228.64 L179.02,228.10 L180.70,227.55 L182.39,227.01 L184.07,226.46 L185.76,225.92 L187.44,225.37 L189.13,224.82 L190.81,224.28 L192.50,223.73 L194.18,223.19 L195.87,222.64 L197.56,222.09 L199.24,221.54 L200.93,221.00 L202.61,220.45 L204.30,219.90 L205.98,219.35 L207.67,218.80 L209.35,218.25 L211.04,217.70 L212.73,217.15 L214.41,216.60 L216.10,216.05 L217.78,215.50 L219.47,214.94 L221.15,214.39 L222.84,213.83 L224.52,213.27 L226.21,212.72 L227.90,212.16 L229.58,211.60 L231.27,211.03 L232.95,210.47 L234.64,209.91 L236.32,209.34 L238.01,208.78 L239.69,208.21 L241.38,207.64 L243.07,207.07 L244.75,206.50 L246.44,205.93 L248.12,205.36 L249.81,204.78 L251.49,204.21 L253.18,203.63 L254.86,203.06 L256.55,202.48 L258.24,201.90 L259.92,201.32 L261.61,200.74 L263.29,200.16 L264.98,199.58 L266.66,199.00 L268.35,198.41 L270.03,197.83 L271.72,197.25 L273.41,196.66 L275.09,196.08 L276.78,195.50 L278.46,194.91 L280.15,194.32 L281.83,193.74 L283.52,193.15 L285.20,192.56 L286.89,191.96 L288.57,191.37 L290.26,190.77 L291.95,190.17 L293.63,189.57 L295.32,188.96 L297.00,188.36 L298.69,187.75 L300.37,187.14 L302.06,186.53 L303.74,185.92 L305.43,185.31 L307.12,184.69 L308.80,184.08 L310.49,183.47 L312.17,182.86 L313.86,182.25 L315.54,181.64 L317.23,181.04 L318.91,180.43 L320.60,179.83 L322.29,179.23 L323.97,178.63 L325.66,178.03 L327.34,177.44 L329.03,176.85 L330.71,176.25 L332.40,175.66 L334.08,175.08 L335.77,174.49 L337.46,173.90 L339.14,173.32 L340.83,172.74 L342.51,172.15 L344.20,171.57 L345.88,170.99 L347.57,170.41 L349.25,169.83 L350.94,169.25 L352.63,168.67 L354.31,168.09 L356.00,167.51 L357.68,166.93 L359.37,166.35 L361.05,165.77 L362.74,165.19 L364.42,164.61 L366.11,164.03 L367.79,163.45 L369.48,162.87 L371.17,162.29 L372.85,161.71 L374.54,161.12 L376.22,160.54 L377.91,159.96 L379.59,159.37 L381.28,158.78 L382.96,158.19 L384.65,157.60 L386.34,157.01 L388.02,156.42 L389.71,155.82 L391.39,155.22 L393.08,154.63 L394.76,154.02 L396.45,153.42 L398.13,152.82 L399.82,152.21 L401.51,151.60 L403.19,150.99 L404.88,150.38 L406.56,149.76 L408.25,149.15 L409.93,148.53 L411.62,147.92 L413.30,147.30 L414.99,146.68 L416.68,146.06 L418.36,145.44 L420.05,144.82 L421.73,144.19 L423.42,143.57 L425.10,142.95 L426.79,142.32 L428.47,141.70 L430.16,141.07 L431.85,140.45 L433.53,139.83 L435.22,139.20 L436.90,138.58 L438.59,137.95 L440.27,137.33 L441.96,136.70 L443.64,136.07 L445.33,135.45 L447.02,134.82 L448.70,134.19 L450.39,133.56 L452.07,132.93 L453.76,132.30 L455.44,131.67 L457.13,131.04 L458.81,130.41 L460.50,129.77 L462.18,129.14 L463.87,128.51 L465.56,127.87 L467.24,127.24 L468.93,126.61 L470.61,125.97 L472.30,125.34 L473.98,124.70 L475.67,124.07 L477.35,123.43 L479.04,122.80 L480.73,122.16 L482.41,121.53 L484.10,120.89 L485.78,120.25 L487.47,119.62 L489.15,118.98 L490.84,118.35 L492.52,117.71 L494.21,117.08 L495.90,116.44 L497.58,115.81 L499.27,115.17 L500.95,114.54 L502.64,113.91 L504.32,113.27 L506.01,112.64 L507.69,112.01 L509.38,111.38 L511.07,110.74 L512.75,110.11 L514.44,109.48 L516.12,108.85 L517.81,108.23 L519.49,107.60 L521.18,106.97 L522.86,106.34 L524.55,105.72 L526.24,105.09 L527.92,104.47 L529.61,103.85 L531.29,103.23 L532.98,102.61 L534.66,101.99 L536.35,101.37 L538.03,100.75 L539.72,100.13 L541.41,99.52 L543.09,98.90 L544.78,98.29 L546.46,97.68 L548.15,97.07 L549.83,96.46 L551.52,95.86 L553.20,95.25 L554.89,94.65 L556.57,94.04 L558.26,93.44 L559.95,92.84 L561.63,92.24 L563.32,91.64 L565.00,91.04 L566.69,90.44 L568.37,89.84 L570.06,89.25 L571.74,88.65 L573.43,88.06 L575.12,87.46 L576.80,86.87 L578.49,86.28 L580.17,85.69 L581.86,85.10 L583.54,84.51 L585.23,83.92 L586.91,83.33 L588.60,82.74 L590.29,82.16 L591.97,81.57 L593.66,80.98 L595.34,80.40 L597.03,79.82 L598.71,79.23 L600.40,78.65 L602.08,78.07 L603.77,77.49 L605.46,76.91 L607.14,76.33 L608.83,75.75 L610.51,75.17 L612.20,74.59 L613.88,74.01 L615.57,73.43 L617.25,72.85 L618.94,72.28 L620.63,71.70 L622.31,71.13 L624.00,70.55 L625.68,69.98 L627.37,69.40 L629.05,68.83 L630.74,68.25 L632.42,67.68 L634.11,67.11 L635.80,66.54 L637.48,65.96 L639.17,65.39 L640.85,64.82 L642.54,64.25 L644.22,63.68 L645.91,63.11 L647.59,62.54 L649.28,61.97 L650.96,61.40 L652.65,60.83 L654.34,60.26 L656.02,59.69 L657.71,59.12 L659.39,58.55 L661.08,57.98 L662.76,57.41 L664.45,56.85 L666.13,56.28 L667.82,55.70 L669.51,55.13 L671.19,54.56 L672.88,53.98 L674.56,53.41 L676.25,52.83 L677.93,52.26 L679.62,51.69 L681.30,51.11 L682.99,50.55 L684.68,49.98 L686.36,49.42 L688.05,48.86 L689.73,48.30 L691.42,47.75 L693.10,47.21 L694.79,46.66 L696.47,46.11 L698.16,45.57 L699.85,45.03 L701.53,44.48 L703.22,43.94 L704.90,43.40 L706.59,42.86 L708.27,42.33 L709.96,41.79 L711.64,41.25 L713.33,40.72 L715.02,40.19 L716.70,39.66 L718.39,39.13 L720.07,38.60 L721.76,38.07 L723.44,37.54 L725.13,37.02 L726.81,36.50 L728.50,35.98 L730.19,35.46 L731.87,34.94 L733.56,34.42 L735.24,33.90 L736.93,33.39 L738.61,32.88 L740.30,32.37 L741.98,31.86 L743.67,31.35 L745.35,30.85 L747.04,30.34 L748.73,29.84 L750.41,29.34 L752.10,28.84 L753.78,28.34 L755.47,27.85 L757.15,27.36 L758.84,26.86 L760.52,26.38 L762.21,25.89 L763.90,25.40 L765.58,24.92 L767.27,24.44 L768.95,23.96 L770.64,23.48 L772.32,23.00 L774.01,22.53 L775.69,22.06 L777.38,21.59" fill="none" stroke="#4169e1" stroke-width="2.40" stroke-dasharray="6.8,2.2,1.4,2.2,6.8,2.1" clip-path="url(#c0)"/>
<path d="M104.85,254.31 L106.54,253.74 L108.22,253.20 L109.91,252.67 L111.59,252.16 L113.28,251.66 L114.96,251.17 L116.65,250.68 L118.34,250.20 L120.02,249.73 L121.71,249.25 L123.39,248.78 L125.08,248.31 L126.76,247.84 L128.45,247.37 L130.13,246.90 L131.82,246.43 L133.51,245.95 L135.19,245.48 L136.88,245.00 L138.56,244.53 L140.25,244.05 L141.93,243.56 L143.62,243.08 L145.30,242.59 L146.99,242.11 L148.68,241.62 L150.36,241.12 L152.05,240.63 L153.73,240.13 L155.42,239.63 L157.10,239.12 L158.79,238.62 L160.47,238.11 L162.16,237.60 L163.85,237.08 L165.53,236.56 L167.22,236.03 L168.90,235.49 L170.59,234.94 L172.27,234.38 L173.96,233.82 L175.64,233.24 L177.33,232.66 L179.02,232.08 L180.70,231.49 L182.39,230.89 L184.07,230.29 L185.76,229.68 L187.44,229.07 L189.13,228.46 L190.81,227.85 L192.50,227.23 L194.18,226.61 L195.87,225.99 L197.56,225.37 L199.24,224.75 L200.93,224.13 L202.61,223.51 L204.30,222.89 L205.98,222.27 L207.67,221.66 L209.35,221.05 L211.04,220.44 L212.73,219.84 L214.41,219.24 L216.10,218.64 L217.78,218.04 L219.47,217.44 L221.15,216.84 L222.84,216.24 L224.52,215.64 L226.21,215.03 L227.90,214.43 L229.58,213.83 L231.27,213.23 L232.95,212.63 L234.64,212.02 L236.32,211.42 L238.01,210.81 L239.69,210.20 L241.38,209.59 L243.07,208.98 L244.75,208.37 L246.44,207.76 L248.12,207.14 L249.81,206.52 L251.49,205.90 L253.18,205.28 L254.86,204.65 L256.55,204.02 L258.24,203.39 L259.92,202.76 L261.61,202.12 L263.29,201.48 L264.98,200.83 L266.66,200.19 L268.35,199.54 L270.03,198.88 L271.72,198.23 L273.41,197.57 L275.09,196.90 L276.78,196.24 L278.46,195.56 L280.15,194.89 L281.83,194.21 L283.52,193.52 L285.20,192.84 L286.89,192.15 L288.57,191.45 L290.26,190.75 L291.95,190.04 L293.63,189.32 L295.32,188.60 L297.00,187.87 L298.69,187.13 L300.37,186.39 L302.06,185.64 L303.74,184.88 L305.43,184.12 L307.12,183.36 L308.80,182.59 L310.49,181.82 L312.17,181.05 L313.86,180.28 L315.54,179.51 L317.23,178.74 L318.91,177.97 L320.60,177.20 L322.29,176.43 L323.97,175.67 L325.66,174.91 L327.34,174.15 L329.03,173.38 L330.71,172.62 L332.40,171.86 L334.08,171.09 L335.77,170.33 L337.46,169.56 L339.14,168.79 L340.83,168.02 L342.51,167.26 L344.20,166.49 L345.88,165.72 L347.57,164.94 L349.25,164.17 L350.94,163.40 L352.63,162.63 L354.31,161.85 L356.00,161.08 L357.68,160.30 L359.37,159.53 L361.05,158.75 L362.74,157.97 L364.42,157.20 L366.11,156.42 L367.79,155.64 L369.48,154.86 L371.17,154.08 L372.85,153.30 L374.54,152.52 L376.22,151.74 L377.91,150.96 L379.59,150.18 L381.28,149.39 L382.96,148.61 L384.65,147.83 L386.34,147.04 L388.02,146.26 L389.71,145.48 L391.39,144.69 L393.08,143.91 L394.76,143.12 L396.45,142.34 L398.13,141.55 L399.82,140.76 L401.51,139.98 L403.19,139.19 L404.88,138.40 L406.56,137.62 L408.25,136.83 L409.93,136.04 L411.62,135.25 L413.30,134.46 L414.99,133.67 L416.68,132.88 L418.36,132.09 L420.05,131.30 L421.73,130.51 L423.42,129.72 L425.10,128.93 L426.79,128.14 L428.47,127.35 L430.16,126.56 L431.85,125.76 L433.53,124.97 L435.22,124.18 L436.90,123.39 L438.59,122.59 L440.27,121.80 L441.96,121.00 L443.64,120.20 L445.33,119.40 L447.02,118.60 L448.70,117.79 L450.39,116.99 L452.07,116.18 L453.76,115.37 L455.44,114.56 L457.13,113.75 L458.81,112.94 L460.50,112.13 L462.18,111.31 L463.87,110.50 L465.56,109.68 L467.24,108.87 L468.93,108.05 L470.61,107.23 L472.30,106.41 L473.98,105.59 L475.67,104.77 L477.35,103.95 L479.04,103.13 L480.73,102.31 L482.41,101.49 L484.10,100.67 L485.78,99.85 L487.47,99.03 L489.15,98.21 L490.84,97.39 L492.52,96.57 L494.21,95.75 L495.90,94.93 L497.58,94.11 L499.27,93.30 L500.95,92.48 L502.64,91.66 L504.32,90.85 L506.01,90.04 L507.69,89.22 L509.38,88.41 L511.07,87.60 L512.75,86.79 L514.44,85.98 L516.12,85.17 L517.81,84.37 L519.49,83.57 L521.18,82.76 L522.86,81.96 L524.55,81.16 L526.24,80.37 L527.92,79.57 L529.61,78.78 L531.29,77.99 L532.98,77.20 L534.66,76.42 L536.35,75.63 L538.03,74.85 L539.72,74.07 L541.41,73.30 L543.09,72.52 L544.78,71.75 L546.46,70.98 L548.15,70.21 L549.83,69.44 L551.52,68.68 L553.20,67.91 L554.89,67.15 L556.57,66.39 L558.26,65.62 L559.95,64.86 L561.63,64.10 L563.32,63.35 L565.00,62.59 L566.69,61.83 L568.37,61.08 L570.06,60.32 L571.74,59.57 L573.43,58.82 L575.12,58.07 L576.80,57.32 L578.49,56.57 L580.17,55.82 L581.86,55.07 L583.54,54.33 L585.23,53.58 L586.91,52.84 L588.60,52.09 L590.29,51.35 L591.97,50.61 L593.66,49.87 L595.34,49.12 L597.03,48.39 L598.71,47.65 L600.40,46.91 L602.08,46.17 L603.77,45.43 L605.46,44.70 L607.14,43.96 L608.83,43.23 L610.51,42.50 L612.20,41.76 L613.88,41.03 L615.57,40.30 L617.25,39.57 L618.94,38.84 L620.63,38.11 L622.31,37.38 L624.00,36.66 L625.68,35.93 L627.37,35.20 L629.05,34.48 L630.74,33.75 L632.42,33.03 L634.11,32.30 L635.80,31.58 L637.48,30.86 L639.17,30.14 L640.85,29.41 L642.54,28.69 L644.22,27.97 L645.91,27.25 L647.59,26.53 L649.28,25.81 L650.96,25.10 L652.65,24.38 L654.34,23.66 L656.02,22.95 L657.71,22.23 L659.39,21.52 L661.08,20.80 L662.76,20.09 L664.45,19.38 L666.13,18.67 L667.82,17.96 L669.51,17.25 L671.19,16.54 L672.88,15.83 L674.56,15.12 L676.25,14.41 L677.93,13.70 L679.62,12.99 L681.30,12.29 L682.99,11.58 L684.68,10.87 L686.36,10.17 L688.05,9.46 L689.73,8.76 L691.42,8.06 L693.10,7.35 L694.79,6.65 L696.47,5.95 L698.16,5.25 L699.85,4.54 L701.53,3.84 L703.22,3.14 L704.90,2.44 L706.59,1.75 L708.27,1.05 L709.96,0.35 L711.64,-0.35 L713.33,-1.04 L715.02,-1.74 L716.70,-2.43 L718.39,-3.13 L720.07,-3.82 L721.76,-4.52 L723.44,-5.21 L725.13,-5.90 L726.81,-6.59 L728.50,-7.28 L730.19,-7.97 L731.87,-8.66 L733.56,-9.35 L735.24,-10.04 L736.93,-10.73 L738.61,-11.41 L740.30,-12.10 L741.98,-12.79 L743.67,-13.47 L745.35,-14.15 L747.04,-14.84 L748.73,-15.52 L750.41,-16.20 L752.10,-16.88 L753.78,-17.56 L755.47,-18.24 L757.15,-18.92 L758.84,-19.60 L760.52,-20.28 L762.21,-20.95 L763.90,-21.63 L765.58,-22.30 L767.27,-22.98 L768.95,-23.65 L770.64,-24.32 L772.32,-24.99 L774.01,-25.66 L775.69,-26.33 L777.38,-27.00" fill="none" stroke="#ff00ff" stroke-width="2.40" stroke-dasharray="7,2.1,1.4,2.5,1.4,2.1,7,1.6" clip-path="url(#c0)"/>
<path d="M104.85,253.70 L106.54,252.96 L108.22,252.24 L109.91,251.55 L111.59,250.88 L113.28,250.22 L114.96,249.58 L116.65,248.95 L118.34,248.32 L120.02,247.70 L121.71,247.09 L123.39,246.49 L125.08,245.89 L126.76,245.30 L128.45,244.71 L130.13,244.12 L131.82,243.54 L133.51,242.96 L135.19,242.39 L136.88,241.82 L138.56,241.25 L140.25,240.68 L141.93,240.11 L143.62,239.55 L145.30,238.99 L146.99,238.43 L148.68,237.87 L150.36,237.31 L152.05,236.76 L153.73,236.20 L155.42,235.65 L157.10,235.10 L158.79,234.55 L160.47,234.00 L162.16,233.45 L163.85,232.90 L165.53,232.35 L167.22,231.80 L168.90,231.26 L170.59,230.71 L172.27,230.16 L173.96,229.62 L175.64,229.07 L177.33,228.53 L179.02,227.98 L180.70,227.44 L182.39,226.90 L184.07,226.35 L185.76,225.81 L187.44,225.26 L189.13,224.72 L190.81,224.18 L192.50,223.63 L194.18,223.09 L195.87,222.55 L197.56,222.00 L199.24,221.46 L200.93,220.91 L202.61,220.37 L204.30,219.82 L205.98,219.28 L207.67,218.73 L209.35,218.19 L211.04,217.64 L212.73,217.10 L214.41,216.55 L216.10,216.00 L217.78,215.46 L219.47,214.91 L221.15,214.36 L222.84,213.81 L224.52,213.26 L226.21,212.71 L227.90,212.15 L229.58,211.60 L231.27,211.05 L232.95,210.49 L234.64,209.94 L236.32,209.38 L238.01,208.82 L239.69,208.26 L241.38,207.71 L243.07,207.15 L244.75,206.59 L246.44,206.02 L248.12,205.46 L249.81,204.90 L251.49,204.33 L253.18,203.77 L254.86,203.20 L256.55,202.64 L258.24,202.07 L259.92,201.50 L261.61,200.93 L263.29,200.36 L264.98,199.79 L266.66,199.22 L268.35,198.65 L270.03,198.08 L271.72,197.50 L273.41,196.93 L275.09,196.35 L276.78,195.78 L278.46,195.20 L280.15,194.62 L281.83,194.04 L283.52,193.47 L285.20,192.89 L286.89,192.31 L288.57,191.73 L290.26,191.15 L291.95,190.56 L293.63,189.98 L295.32,189.40 L297.00,188.82 L298.69,188.23 L300.37,187.65 L302.06,187.07 L303.74,186.48 L305.43,185.90 L307.12,185.31 L308.80,184.73 L310.49,184.14 L312.17,183.56 L313.86,182.97 L315.54,182.39 L317.23,181.80 L318.91,181.22 L320.60,180.63 L322.29,180.05 L323.97,179.47 L325.66,178.88 L327.34,178.30 L329.03,177.71 L330.71,177.13 L332.40,176.54 L334.08,175.96 L335.77,175.37 L337.46,174.79 L339.14,174.20 L340.83,173.61 L342.51,173.03 L344.20,172.44 L345.88,171.85 L347.57,171.27 L349.25,170.68 L350.94,170.09 L352.63,169.50 L354.31,168.91 L356.00,168.32 L357.68,167.74 L359.37,167.15 L361.05,166.56 L362.74,165.97 L364.42,165.38 L366.11,164.78 L367.79,164.19 L369.48,163.60 L371.17,163.01 L372.85,162.42 L374.54,161.83 L376.22,161.24 L377.91,160.64 L379.59,160.05 L381.28,159.46 L382.96,158.86 L384.65,158.27 L386.34,157.68 L388.02,157.08 L389.71,156.49 L391.39,155.89 L393.08,155.30 L394.76,154.70 L396.45,154.11 L398.13,153.51 L399.82,152.92 L401.51,152.32 L403.19,151.73 L404.88,151.13 L406.56,150.53 L408.25,149.93 L409.93,149.34 L411.62,148.74 L413.30,148.14 L414.99,147.54 L416.68,146.94 L418.36,146.34 L420.05,145.75 L421.73,145.15 L423.42,144.55 L425.10,143.95 L426.79,143.34 L428.47,142.74 L430.16,142.14 L431.85,141.54 L433.53,140.94 L435.22,140.34 L436.90,139.73 L438.59,139.13 L440.27,138.53 L441.96,137.92 L443.64,137.32 L445.33,136.72 L447.02,136.11 L448.70,135.50 L450.39,134.90 L452.07,134.29 L453.76,133.69 L455.44,133.08 L457.13,132.47 L458.81,131.86 L460.50,131.25 L462.18,130.65 L463.87,130.04 L465.56,129.43 L467.24,128.82 L468.93,128.21 L470.61,127.60 L472.30,126.99 L473.98,126.38 L475.67,125.77 L477.35,125.16 L479.04,124.55 L480.73,123.94 L482.41,123.33 L484.10,122.72 L485.78,122.11 L487.47,121.50 L489.15,120.89 L490.84,120.28 L492.52,119.67 L494.21,119.06 L495.90,118.45 L497.58,117.84 L499.27,117.23 L500.95,116.62 L502.64,116.01 L504.32,115.40 L506.01,114.80 L507.69,114.19 L509.38,113.58 L511.07,112.97 L512.75,112.37 L514.44,111.76 L516.12,111.16 L517.81,110.55 L519.49,109.95 L521.18,109.34 L522.86,108.74 L524.55,108.14 L526.24,107.54 L527.92,106.94 L529.61,106.34 L531.29,105.74 L532.98,105.14 L534.66,104.54 L536.35,103.94 L538.03,103.35 L539.72,102.75 L541.41,102.16 L543.09,101.57 L544.78,100.97 L546.46,100.38 L548.15,99.79 L549.83,99.20 L551.52,98.62 L553.20,98.03 L554.89,97.44 L556.57,96.86 L558.26,96.27 L559.95,95.68 L561.63,95.10 L563.32,94.51 L565.00,93.93 L566.69,93.35 L568.37,92.76 L570.06,92.18 L571.74,91.60 L573.43,91.01 L575.12,90.43 L576.80,89.85 L578.49,89.27 L580.17,88.69 L581.86,88.11 L583.54,87.53 L585.23,86.95 L586.91,86.38 L588.60,85.80 L590.29,85.22 L591.97,84.65 L593.66,84.07 L595.34,83.50 L597.03,82.93 L598.71,82.35 L600.40,81.78 L602.08,81.21 L603.77,80.64 L605.46,80.07 L607.14,79.50 L608.83,78.93 L610.51,78.37 L612.20,77.80 L613.88,77.24 L615.57,76.67 L617.25,76.11 L618.94,75.55 L620.63,74.99 L622.31,74.43 L624.00,73.87 L625.68,73.31 L627.37,72.75 L629.05,72.20 L630.74,71.64 L632.42,71.09 L634.11,70.54 L635.80,69.99 L637.48,69.44 L639.17,68.89 L640.85,68.34 L642.54,67.79 L644.22,67.25 L645.91,66.70 L647.59,66.16 L649.28,65.62 L650.96,65.08 L652.65,64.54 L654.34,64.00 L656.02,63.46 L657.71,62.93 L659.39,62.39 L661.08,61.86 L662.76,61.33 L664.45,60.80 L666.13,60.27 L667.82,59.74 L669.51,59.22 L671.19,58.69 L672.88,58.16 L674.56,57.64 L676.25,57.11 L677.93,56.59 L679.62,56.07 L681.30,55.54 L682.99,55.02 L684.68,54.50 L686.36,53.98 L688.05,53.46 L689.73,52.94 L691.42,52.42 L693.10,51.91 L694.79,51.39 L696.47,50.87 L698.16,50.36 L699.85,49.84 L701.53,49.33 L703.22,48.82 L704.90,48.31 L706.59,47.80 L708.27,47.29 L709.96,46.78 L711.64,46.27 L713.33,45.76 L715.02,45.25 L716.70,44.75 L718.39,44.24 L720.07,43.74 L721.76,43.24 L723.44,42.74 L725.13,42.24 L726.81,41.74 L728.50,41.24 L730.19,40.74 L731.87,40.24 L733.56,39.75 L735.24,39.25 L736.93,38.76 L738.61,38.26 L740.30,37.77 L741.98,37.28 L743.67,36.79 L745.35,36.30 L747.04,35.81 L748.73,35.33 L750.41,34.84 L752.10,34.36 L753.78,33.87 L755.47,33.39 L757.15,32.91 L758.84,32.43 L760.52,31.95 L762.21,31.47 L763.90,31.00 L765.58,30.52 L767.27,30.05 L768.95,29.57 L770.64,29.10 L772.32,28.63 L774.01,28.16 L775.69,27.69 L777.38,27.22" fill="none" stroke="#ffa500" stroke-width="3.15" clip-path="url(#c0)"/>
<path d="M104.85,483.78 L106.54,482.89 L108.22,482.07 L109.91,481.31 L111.59,480.58 L113.28,479.88 L114.96,479.22 L116.65,478.58 L118.34,477.96 L120.02,477.35 L121.71,476.77 L123.39,476.20 L125.08,475.64 L126.76,475.09 L128.45,474.56 L130.13,474.04 L131.82,473.52 L133.51,473.02 L135.19,472.53 L136.88,472.04 L138.56,471.56 L140.25,471.09 L141.93,470.62 L143.62,470.16 L145.30,469.71 L146.99,469.26 L148.68,468.82 L150.36,468.38 L152.05,467.95 L153.73,467.53 L155.42,467.10 L157.10,466.69 L158.79,466.27 L160.47,465.87 L162.16,465.46 L163.85,465.06 L165.53,464.66 L167.22,464.27 L168.90,463.88 L170.59,463.49 L172.27,463.11 L173.96,462.73 L175.64,462.35 L177.33,461.98 L179.02,461.61 L180.70,461.24 L182.39,460.87 L184.07,460.51 L185.76,460.15 L187.44,459.79 L189.13,459.44 L190.81,459.08 L192.50,458.73 L194.18,458.38 L195.87,458.04 L197.56,457.69 L199.24,457.35 L200.93,457.01 L202.61,456.68 L204.30,456.34 L205.98,456.01 L207.67,455.67 L209.35,455.34 L211.04,455.02 L212.73,454.69 L214.41,454.37 L216.10,454.04 L217.78,453.72 L219.47,453.40 L221.15,453.09 L222.84,452.77 L224.52,452.46 L226.21,452.14 L227.90,451.83 L229.58,451.52 L231.27,451.21 L232.95,450.91 L234.64,450.60 L236.32,450.30 L238.01,450.00 L239.69,449.70 L241.38,449.40 L243.07,449.10 L244.75,448.80 L246.44,448.50 L248.12,448.21 L249.81,447.92 L251.49,447.62 L253.18,447.33 L254.86,447.04 L256.55,446.76 L258.24,446.47 L259.92,446.18 L261.61,445.90 L263.29,445.61 L264.98,445.33 L266.66,445.05 L268.35,444.77 L270.03,444.49 L271.72,444.21 L273.41,443.93 L275.09,443.66 L276.78,443.38 L278.46,443.11 L280.15,442.83 L281.83,442.56 L283.52,442.29 L285.20,442.02 L286.89,441.75 L288.57,441.48 L290.26,441.21 L291.95,440.94 L293.63,440.68 L295.32,440.41 L297.00,440.15 L298.69,439.89 L300.37,439.62 L302.06,439.36 L303.74,439.10 L305.43,438.84 L307.12,438.58 L308.80,438.32 L310.49,438.06 L312.17,437.81 L313.86,437.55 L315.54,437.30 L317.23,437.04 L318.91,436.79 L320.60,436.53 L322.29,436.28 L323.97,436.03 L325.66,435.78 L327.34,435.53 L329.03,435.28 L330.71,435.03 L332.40,434.78 L334.08,434.54 L335.77,434.29 L337.46,434.04 L339.14,433.80 L340.83,433.55 L342.51,433.31 L344.20,433.07 L345.88,432.82 L347.57,432.58 L349.25,432.34 L350.94,432.10 L352.63,431.86 L354.31,431.62 L356.00,431.38 L357.68,431.14 L359.37,430.91 L361.05,430.67 L362.74,430.43 L364.42,430.20 L366.11,429.96 L367.79,429.73 L369.48,429.49 L371.17,429.26 L372.85,429.03 L374.54,428.79 L376.22,428.56 L377.91,428.33 L379.59,428.10 L381.28,427.87 L382.96,427.64 L384.65,427.41 L386.34,427.18 L388.02,426.96 L389.71,426.73 L391.39,426.50 L393.08,426.27 L394.76,426.05 L396.45,425.82 L398.13,425.60 L399.82,425.37 L401.51,425.15 L403.19,424.93 L404.88,424.70 L406.56,424.48 L408.25,424.26 L409.93,424.04 L411.62,423.82 L413.30,423.60 L414.99,423.38 L416.68,423.16 L418.36,422.94 L420.05,422.72 L421.73,422.50 L423.42,422.28 L425.10,422.07 L426.79,421.85 L428.47,421.63 L430.16,421.42 L431.85,421.20 L433.53,420.99 L435.22,420.77 L436.90,420.56 L438.59,420.34 L440.27,420.13 L441.96,419.92 L443.64,419.71 L445.33,419.49 L447.02,419.28 L448.70,419.07 L450.39,418.86 L452.07,418.65 L453.76,418.44 L455.44,418.23 L457.13,418.02 L458.81,417.81 L460.50,417.60 L462.18,417.40 L463.87,417.19 L465.56,416.98 L467.24,416.77 L468.93,416.57 L470.61,416.36 L472.30,416.16 L473.98,415.95 L475.67,415.75 L477.35,415.54 L479.04,415.34 L480.73,415.13 L482.41,414.93 L484.10,414.73 L485.78,414.52 L487.47,414.32 L489.15,414.12 L490.84,413.92 L492.52,413.72 L494.21,413.52 L495.90,413.32 L497.58,413.12 L499.27,412.92 L500.95,412.72 L502.64,412.52 L504.32,412.32 L506.01,412.12 L507.69,411.92 L509.38,411.72 L511.07,411.53 L512.75,411.33 L514.44,411.13 L516.12,410.94 L517.81,410.74 L519.49,410.54 L521.18,410.35 L522.86,410.15 L524.55,409.96 L526.24,409.76 L527.92,409.57 L529.61,409.38 L531.29,409.18 L532.98,408.99 L534.66,408.80 L536.35,408.60 L538.03,408.41 L539.72,408.22 L541.41,408.03 L543.09,407.83 L544.78,407.64 L546.46,407.45 L548.15,407.26 L549.83,407.07 L551.52,406.88 L553.20,406.69 L554.89,406.50 L556.57,406.31 L558.26,406.12 L559.95,405.94 L561.63,405.75 L563.32,405.56 L565.00,405.37 L566.69,405.18 L568.37,405.00 L570.06,404.81 L571.74,404.62 L573.43,404.44 L575.12,404.25 L576.80,404.07 L578.49,403.88 L580.17,403.70 L581.86,403.51 L583.54,403.33 L585.23,403.14 L586.91,402.96 L588.60,402.77 L590.29,402.59 L591.97,402.41 L593.66,402.22 L595.34,402.04 L597.03,401.86 L598.71,401.68 L600.40,401.49 L602.08,401.31 L603.77,401.13 L605.46,400.95 L607.14,400.77 L608.83,400.59 L610.51,400.41 L612.20,400.23 L613.88,400.05 L615.57,399.87 L617.25,399.69 L618.94,399.51 L620.63,399.33 L622.31,399.15 L624.00,398.97 L625.68,398.79 L627.37,398.62 L629.05,398.44 L630.74,398.26 L632.42,398.08 L634.11,397.91 L635.80,397.73 L637.48,397.55 L639.17,397.38 L640.85,397.20 L642.54,397.02 L644.22,396.85 L645.91,396.67 L647.59,396.50 L649.28,396.32 L650.96,396.15 L652.65,395.97 L654.34,395.80 L656.02,395.62 L657.71,395.45 L659.39,395.28 L661.08,395.10 L662.76,394.93 L664.45,394.76 L666.13,394.58 L667.82,394.41 L669.51,394.24 L671.19,394.07 L672.88,393.89 L674.56,393.72 L676.25,393.55 L677.93,393.38 L679.62,393.21 L681.30,393.04 L682.99,392.87 L684.68,392.70 L686.36,392.53 L688.05,392.36 L689.73,392.19 L691.42,392.02 L693.10,391.85 L694.79,391.68 L696.47,391.51 L698.16,391.34 L699.85,391.17 L701.53,391.00 L703.22,390.84 L704.90,390.67 L706.59,390.50 L708.27,390.33 L709.96,390.17 L711.64,390.00 L713.33,389.83 L715.02,389.66 L716.70,389.50 L718.39,389.33 L720.07,389.17 L721.76,389.00 L723.44,388.83 L725.13,388.67 L726.81,388.50 L728.50,388.34 L730.19,388.17 L731.87,388.01 L733.56,387.84 L735.24,387.68 L736.93,387.51 L738.61,387.35 L740.30,387.19 L741.98,387.02 L743.67,386.86 L745.35,386.70 L747.04,386.53 L748.73,386.37 L750.41,386.21 L752.10,386.04 L753.78,385.88 L755.47,385.72 L757.15,385.56 L758.84,385.40 L760.52,385.23 L762.21,385.07 L763.90,384.91 L765.58,384.75 L767.27,384.59 L768.95,384.43 L770.64,384.27 L772.32,384.11 L774.01,383.95 L775.69,383.79 L777.38,383.63" fill="none" stroke="#1e90ff" stroke-width="1.25" clip-path="url(#c1)"/>
<path d="M104.85,483.74 L106.54,482.83 L108.22,481.98 L109.91,481.18 L111.59,480.42 L113.28,479.69 L114.96,478.99 L116.65,478.30 L118.34,477.63 L120.02,476.98 L121.71,476.34 L123.39,475.72 L125.08,475.10 L126.76,474.50 L128.45,473.90 L130.13,473.31 L131.82,472.73 L133.51,472.16 L135.19,471.59 L136.88,471.03 L138.56,470.47 L140.25,469.91 L141.93,469.37 L143.62,468.82 L145.30,468.28 L146.99,467.74 L148.68,467.21 L150.36,466.68 L152.05,466.15 L153.73,465.62 L155.42,465.10 L157.10,464.58 L158.79,464.06 L160.47,463.54 L162.16,463.02 L163.85,462.51 L165.53,461.99 L167.22,461.48 L168.90,460.97 L170.59,460.46 L172.27,459.95 L173.96,459.44 L175.64,458.93 L177.33,458.43 L179.02,457.92 L180.70,457.41 L182.39,456.91 L184.07,456.40 L185.76,455.90 L187.44,455.40 L189.13,454.89 L190.81,454.39 L192.50,453.88 L194.18,453.38 L195.87,452.87 L197.56,452.37 L199.24,451.86 L200.93,451.36 L202.61,450.85 L204.30,450.35 L205.98,449.84 L207.67,449.33 L209.35,448.83 L211.04,448.32 L212.73,447.81 L214.41,447.30 L216.10,446.79 L217.78,446.28 L219.47,445.76 L221.15,445.25 L222.84,444.73 L224.52,444.21 L226.21,443.69 L227.90,443.17 L229.58,442.64 L231.27,442.11 L232.95,441.59 L234.64,441.06 L236.32,440.52 L238.01,439.99 L239.69,439.45 L241.38,438.92 L243.07,438.38 L244.75,437.84 L246.44,437.29 L248.12,436.75 L249.81,436.20 L251.49,435.65 L253.18,435.10 L254.86,434.55 L256.55,434.00 L258.24,433.44 L259.92,432.89 L261.61,432.33 L263.29,431.77 L264.98,431.21 L266.66,430.65 L268.35,430.08 L270.03,429.52 L271.72,428.95 L273.41,428.39 L275.09,427.82 L276.78,427.25 L278.46,426.68 L280.15,426.11 L281.83,425.54 L283.52,424.97 L285.20,424.40 L286.89,423.82 L288.57,423.25 L290.26,422.68 L291.95,422.10 L293.63,421.53 L295.32,420.96 L297.00,420.38 L298.69,419.81 L300.37,419.24 L302.06,418.67 L303.74,418.09 L305.43,417.52 L307.12,416.96 L308.80,416.39 L310.49,415.82 L312.17,415.26 L313.86,414.69 L315.54,414.13 L317.23,413.57 L318.91,413.01 L320.60,412.46 L322.29,411.90 L323.97,411.35 L325.66,410.81 L327.34,410.26 L329.03,409.71 L330.71,409.17 L332.40,408.63 L334.08,408.09 L335.77,407.54 L337.46,407.00 L339.14,406.47 L340.83,405.93 L342.51,405.39 L344.20,404.85 L345.88,404.32 L347.57,403.79 L349.25,403.25 L350.94,402.72 L352.63,402.19 L354.31,401.66 L356.00,401.13 L357.68,400.60 L359.37,400.07 L361.05,399.54 L362.74,399.02 L364.42,398.49 L366.11,397.97 L367.79,397.44 L369.48,396.92 L371.17,396.40 L372.85,395.87 L374.54,395.35 L376.22,394.83 L377.91,394.31 L379.59,393.79 L381.28,393.26 L382.96,392.74 L384.65,392.22 L386.34,391.70 L388.02,391.18 L389.71,390.66 L391.39,390.14 L393.08,389.62 L394.76,389.10 L396.45,388.58 L398.13,388.06 L399.82,387.54 L401.51,387.02 L403.19,386.50 L404.88,385.98 L406.56,385.46 L408.25,384.93 L409.93,384.41 L411.62,383.89 L413.30,383.36 L414.99,382.84 L416.68,382.31 L418.36,381.78 L420.05,381.25 L421.73,380.72 L423.42,380.19 L425.10,379.66 L426.79,379.13 L428.47,378.59 L430.16,378.06 L431.85,377.52 L433.53,376.98 L435.22,376.44 L436.90,375.90 L438.59,375.35 L440.27,374.81 L441.96,374.26 L443.64,373.71 L445.33,373.16 L447.02,372.61 L448.70,372.05 L450.39,371.50 L452.07,370.94 L453.76,370.38 L455.44,369.82 L457.13,369.26 L458.81,368.70 L460.50,368.14 L462.18,367.57 L463.87,367.01 L465.56,366.44 L467.24,365.88 L468.93,365.31 L470.61,364.74 L472.30,364.17 L473.98,363.60 L475.67,363.03 L477.35,362.46 L479.04,361.89 L480.73,361.32 L482.41,360.75 L484.10,360.18 L485.78,359.60 L487.47,359.03 L489.15,358.46 L490.84,357.89 L492.52,357.31 L494.21,356.74 L495.90,356.17 L497.58,355.60 L499.27,355.03 L500.95,354.46 L502.64,353.89 L504.32,353.32 L506.01,352.75 L507.69,352.18 L509.38,351.61 L511.07,351.04 L512.75,350.48 L514.44,349.92 L516.12,349.35 L517.81,348.79 L519.49,348.23 L521.18,347.67 L522.86,347.11 L524.55,346.56 L526.24,346.01 L527.92,345.45 L529.61,344.90 L531.29,344.36 L532.98,343.81 L534.66,343.27 L536.35,342.73 L538.03,342.19 L539.72,341.65 L541.41,341.12 L543.09,340.59 L544.78,340.06 L546.46,339.53 L548.15,339.01 L549.83,338.49 L551.52,337.98 L553.20,337.46 L554.89,336.95 L556.57,336.44 L558.26,335.93 L559.95,335.42 L561.63,334.92 L563.32,334.41 L565.00,333.91 L566.69,333.41 L568.37,332.91 L570.06,332.41 L571.74,331.92 L573.43,331.42 L575.12,330.93 L576.80,330.44 L578.49,329.94 L580.17,329.45 L581.86,328.97 L583.54,328.48 L585.23,327.99 L586.91,327.51 L588.60,327.03 L590.29,326.55 L591.97,326.07 L593.66,325.59 L595.34,325.11 L597.03,324.63 L598.71,324.16 L600.40,323.69 L602.08,323.21 L603.77,322.74 L605.46,322.27 L607.14,321.80 L608.83,321.33 L610.51,320.87 L612.20,320.40 L613.88,319.94 L615.57,319.47 L617.25,319.01 L618.94,318.55 L620.63,318.09 L622.31,317.63 L624.00,317.17 L625.68,316.71 L627.37,316.26 L629.05,315.80 L630.74,315.35 L632.42,314.89 L634.11,314.44 L635.80,313.98 L637.48,313.53 L639.17,313.08 L640.85,312.63 L642.54,312.18 L644.22,311.73 L645.91,311.28 L647.59,310.83 L649.28,310.39 L650.96,309.94 L652.65,309.49 L654.34,309.05 L656.02,308.60 L657.71,308.16 L659.39,307.71 L661.08,307.27 L662.76,306.83 L664.45,306.38 L666.13,305.94 L667.82,305.50 L669.51,305.06 L671.19,304.62 L672.88,304.18 L674.56,303.74 L676.25,303.30 L677.93,302.86 L679.62,302.43 L681.30,301.99 L682.99,301.56 L684.68,301.12 L686.36,300.69 L688.05,300.25 L689.73,299.82 L691.42,299.39 L693.10,298.96 L694.79,298.53 L696.47,298.10 L698.16,297.68 L699.85,297.25 L701.53,296.82 L703.22,296.40 L704.90,295.97 L706.59,295.55 L708.27,295.13 L709.96,294.71 L711.64,294.29 L713.33,293.87 L715.02,293.45 L716.70,293.03 L718.39,292.61 L720.07,292.20 L721.76,291.78 L723.44,291.37 L725.13,290.95 L726.81,290.54 L728.50,290.13 L730.19,289.72 L731.87,289.31 L733.56,288.90 L735.24,288.49 L736.93,288.09 L738.61,287.68 L740.30,287.28 L741.98,286.87 L743.67,286.47 L745.35,286.07 L747.04,285.67 L748.73,285.27 L750.41,284.87 L752.10,284.47 L753.78,284.08 L755.47,283.68 L757.15,283.29 L758.84,282.89 L760.52,282.50 L762.21,282.11 L763.90,281.72 L765.58,281.33 L767.27,280.94 L768.95,280.56 L770.64,280.17 L772.32,279.79 L774.01,279.40 L775.69,279.02 L777.38,278.64" fill="none" stroke="#228b22" stroke-width="2.40" stroke-dasharray="7.0,2.42" clip-path="url(#c1)"/>
<path d="M104.85,483.74 L106.54,482.83 L108.22,481.98 L109.91,481.18 L111.59,480.42 L113.28,479.69 L114.96,478.99 L116.65,478.30 L118.34,477.63 L120.02,476.98 L121.71,476.34 L123.39,475.72 L125.08,475.10 L126.76,474.50 L128.45,473.90 L130.13,473.31 L131.82,472.73 L133.51,472.16 L135.19,471.59 L136.88,471.03 L138.56,470.47 L140.25,469.91 L141.93,469.37 L143.62,468.82 L145.30,468.28 L146.99,467.74 L148.68,467.21 L150.36,466.68 L152.05,466.15 L153.73,465.62 L155.42,465.10 L157.10,464.58 L158.79,464.06 L160.47,463.54 L162.16,463.02 L163.85,462.51 L165.53,461.99 L167.22,461.48 L168.90,460.97 L170.59,460.46 L172.27,459.95 L173.96,459.44 L175.64,458.93 L177.33,458.43 L179.02,457.92 L180.70,457.41 L182.39,456.91 L184.07,456.40 L185.76,455.90 L187.44,455.40 L189.13,454.89 L190.81,454.39 L192.50,453.88 L194.18,453.38 L195.87,452.87 L197.56,452.37 L199.24,451.86 L200.93,451.36 L202.61,450.85 L204.30,450.35 L205.98,449.84 L207.67,449.33 L209.35,448.83 L211.04,448.32 L212.73,447.81 L214.41,447.30 L216.10,446.79 L217.78,446.28 L219.47,445.76 L221.15,445.25 L222.84,444.73 L224.52,444.21 L226.21,443.69 L227.90,443.16 L229.58,442.64 L231.27,442.11 L232.95,441.58 L234.64,441.05 L236.32,440.52 L238.01,439.98 L239.69,439.45 L241.38,438.91 L243.07,438.37 L244.75,437.83 L246.44,437.28 L248.12,436.74 L249.81,436.19 L251.49,435.64 L253.18,435.09 L254.86,434.54 L256.55,433.99 L258.24,433.43 L259.92,432.87 L261.61,432.31 L263.29,431.75 L264.98,431.19 L266.66,430.63 L268.35,430.07 L270.03,429.50 L271.72,428.93 L273.41,428.37 L275.09,427.80 L276.78,427.23 L278.46,426.66 L280.15,426.09 L281.83,425.52 L283.52,424.94 L285.20,424.37 L286.89,423.80 L288.57,423.22 L290.26,422.65 L291.95,422.08 L293.63,421.50 L295.32,420.93 L297.00,420.36 L298.69,419.79 L300.37,419.21 L302.06,418.64 L303.74,418.07 L305.43,417.50 L307.12,416.93 L308.80,416.37 L310.49,415.80 L312.17,415.24 L313.86,414.68 L315.54,414.12 L317.23,413.56 L318.91,413.00 L320.60,412.45 L322.29,411.90 L323.97,411.35 L325.66,410.81 L327.34,410.26 L329.03,409.72 L330.71,409.18 L332.40,408.64 L334.08,408.10 L335.77,407.56 L337.46,407.03 L339.14,406.49 L340.83,405.95 L342.51,405.42 L344.20,404.89 L345.88,404.35 L347.57,403.82 L349.25,403.29 L350.94,402.76 L352.63,402.24 L354.31,401.71 L356.00,401.18 L357.68,400.65 L359.37,400.13 L361.05,399.61 L362.74,399.08 L364.42,398.56 L366.11,398.04 L367.79,397.52 L369.48,396.99 L371.17,396.47 L372.85,395.96 L374.54,395.44 L376.22,394.92 L377.91,394.40 L379.59,393.88 L381.28,393.37 L382.96,392.85 L384.65,392.33 L386.34,391.82 L388.02,391.30 L389.71,390.79 L391.39,390.27 L393.08,389.76 L394.76,389.24 L396.45,388.73 L398.13,388.21 L399.82,387.70 L401.51,387.19 L403.19,386.67 L404.88,386.16 L406.56,385.64 L408.25,385.13 L409.93,384.61 L411.62,384.09 L413.30,383.58 L414.99,383.06 L416.68,382.54 L418.36,382.03 L420.05,381.51 L421.73,380.99 L423.42,380.47 L425.10,379.95 L426.79,379.43 L428.47,378.90 L430.16,378.38 L431.85,377.85 L433.53,377.33 L435.22,376.80 L436.90,376.27 L438.59,375.74 L440.27,375.21 L441.96,374.68 L443.64,374.15 L445.33,373.61 L447.02,373.08 L448.70,372.55 L450.39,372.01 L452.07,371.48 L453.76,370.94 L455.44,370.40 L457.13,369.87 L458.81,369.33 L460.50,368.79 L462.18,368.26 L463.87,367.72 L465.56,367.18 L467.24,366.64 L468.93,366.10 L470.61,365.56 L472.30,365.02 L473.98,364.48 L475.67,363.94 L477.35,363.40 L479.04,362.86 L480.73,362.32 L482.41,361.78 L484.10,361.24 L485.78,360.70 L487.47,360.16 L489.15,359.62 L490.84,359.08 L492.52,358.54 L494.21,358.00 L495.90,357.46 L497.58,356.92 L499.27,356.38 L500.95,355.85 L502.64,355.31 L504.32,354.77 L506.01,354.23 L507.69,353.70 L509.38,353.16 L511.07,352.63 L512.75,352.09 L514.44,351.56 L516.12,351.03 L517.81,350.50 L519.49,349.97 L521.18,349.44 L522.86,348.91 L524.55,348.38 L526.24,347.85 L527.92,347.32 L529.61,346.80 L531.29,346.28 L532.98,345.75 L534.66,345.23 L536.35,344.71 L538.03,344.19 L539.72,343.68 L541.41,343.16 L543.09,342.65 L544.78,342.13 L546.46,341.62 L548.15,341.11 L549.83,340.60 L551.52,340.10 L553.20,339.59 L554.89,339.09 L556.57,338.59 L558.26,338.08 L559.95,337.58 L561.63,337.08 L563.32,336.58 L565.00,336.08 L566.69,335.58 L568.37,335.08 L570.06,334.59 L571.74,334.09 L573.43,333.59 L575.12,333.10 L576.80,332.60 L578.49,332.11 L580.17,331.62 L581.86,331.13 L583.54,330.64 L585.23,330.15 L586.91,329.66 L588.60,329.17 L590.29,328.68 L591.97,328.20 L593.66,327.71 L595.34,327.23 L597.03,326.75 L598.71,326.26 L600.40,325.78 L602.08,325.30 L603.77,324.82 L605.46,324.35 L607.14,323.87 L608.83,323.39 L610.51,322.92 L612.20,322.44 L613.88,321.97 L615.57,321.50 L617.25,321.03 L618.94,320.56 L620.63,320.09 L622.31,319.62 L624.00,319.16 L625.68,318.69 L627.37,318.23 L629.05,317.76 L630.74,317.30 L632.42,316.84 L634.11,316.38 L635.80,315.92 L637.48,315.46 L639.17,315.01 L640.85,314.55 L642.54,314.10 L644.22,313.65 L645.91,313.20 L647.59,312.75 L649.28,312.30 L650.96,311.85 L652.65,311.40 L654.34,310.96 L656.02,310.51 L657.71,310.07 L659.39,309.63 L661.08,309.19 L662.76,308.75 L664.45,308.31 L666.13,307.88 L667.82,307.44 L669.51,307.01 L671.19,306.57 L672.88,306.14 L674.56,305.71 L676.25,305.27 L677.93,304.84 L679.62,304.41 L681.30,303.98 L682.99,303.56 L684.68,303.13 L686.36,302.70 L688.05,302.28 L689.73,301.85 L691.42,301.43 L693.10,301.01 L694.79,300.59 L696.47,300.17 L698.16,299.75 L699.85,299.33 L701.53,298.91 L703.22,298.49 L704.90,298.08 L706.59,297.67 L708.27,297.25 L709.96,296.84 L711.64,296.43 L713.33,296.02 L715.02,295.61 L716.70,295.20 L718.39,294.80 L720.07,294.39 L721.76,293.99 L723.44,293.58 L725.13,293.18 L726.81,292.78 L728.50,292.38 L730.19,291.98 L731.87,291.58 L733.56,291.19 L735.24,290.79 L736.93,290.40 L738.61,290.01 L740.30,289.62 L741.98,289.23 L743.67,288.84 L745.35,288.45 L747.04,288.06 L748.73,287.68 L750.41,287.29 L752.10,286.91 L753.78,286.53 L755.47,286.15 L757.15,285.77 L758.84,285.40 L760.52,285.02 L762.21,284.65 L763.90,284.27 L765.58,283.90 L767.27,283.53 L768.95,283.16 L770.64,282.79 L772.32,282.43 L774.01,282.06 L775.69,281.70 L777.38,281.34" fill="none" stroke="#4169e1" stroke-width="2.40" stroke-dasharray="6.8,2.2,1.4,2.2,6.8,2.1" clip-path="url(#c1)"/>
<path d="M104.85,483.74 L106.54,482.83 L108.22,481.98 L109.91,481.18 L111.59,480.42 L113.28,479.69 L114.96,478.98 L116.65,478.30 L118.34,477.63 L120.02,476.98 L121.71,476.34 L123.39,475.71 L125.08,475.10 L126.76,474.49 L128.45,473.89 L130.13,473.31 L131.82,472.72 L133.51,472.15 L135.19,471.58 L136.88,471.02 L138.56,470.46 L140.25,469.91 L141.93,469.36 L143.62,468.81 L145.30,468.27 L146.99,467.73 L148.68,467.20 L150.36,466.67 L152.05,466.14 L153.73,465.61 L155.42,465.09 L157.10,464.56 L158.79,464.04 L160.47,463.52 L162.16,463.01 L163.85,462.49 L165.53,461.98 L167.22,461.47 L168.90,460.96 L170.59,460.45 L172.27,459.94 L173.96,459.43 L175.64,458.92 L177.33,458.41 L179.02,457.91 L180.70,457.40 L182.39,456.90 L184.07,456.39 L185.76,455.89 L187.44,455.38 L189.13,454.88 L190.81,454.38 L192.50,453.87 L194.18,453.37 L195.87,452.86 L197.56,452.36 L199.24,451.86 L200.93,451.35 L202.61,450.85 L204.30,450.34 L205.98,449.84 L207.67,449.33 L209.35,448.83 L211.04,448.32 L212.73,447.81 L214.41,447.30 L216.10,446.79 L217.78,446.28 L219.47,445.77 L221.15,445.25 L222.84,444.73 L224.52,444.21 L226.21,443.69 L227.90,443.16 L229.58,442.64 L231.27,442.11 L232.95,441.58 L234.64,441.04 L236.32,440.51 L238.01,439.97 L239.69,439.43 L241.38,438.89 L243.07,438.35 L244.75,437.81 L246.44,437.26 L248.12,436.71 L249.81,436.16 L251.49,435.61 L253.18,435.05 L254.86,434.50 L256.55,433.94 L258.24,433.38 L259.92,432.82 L261.61,432.26 L263.29,431.70 L264.98,431.14 L266.66,430.57 L268.35,430.00 L270.03,429.44 L271.72,428.87 L273.41,428.30 L275.09,427.73 L276.78,427.16 L278.46,426.59 L280.15,426.02 L281.83,425.45 L283.52,424.89 L285.20,424.32 L286.89,423.75 L288.57,423.18 L290.26,422.61 L291.95,422.04 L293.63,421.48 L295.32,420.91 L297.00,420.35 L298.69,419.79 L300.37,419.23 L302.06,418.67 L303.74,418.12 L305.43,417.56 L307.12,417.01 L308.80,416.47 L310.49,415.92 L312.17,415.38 L313.86,414.84 L315.54,414.31 L317.23,413.78 L318.91,413.26 L320.60,412.73 L322.29,412.22 L323.97,411.71 L325.66,411.20 L327.34,410.70 L329.03,410.20 L330.71,409.70 L332.40,409.20 L334.08,408.70 L335.77,408.21 L337.46,407.71 L339.14,407.22 L340.83,406.73 L342.51,406.24 L344.20,405.76 L345.88,405.27 L347.57,404.79 L349.25,404.31 L350.94,403.83 L352.63,403.35 L354.31,402.87 L356.00,402.40 L357.68,401.92 L359.37,401.45 L361.05,400.98 L362.74,400.51 L364.42,400.04 L366.11,399.57 L367.79,399.11 L369.48,398.64 L371.17,398.18 L372.85,397.72 L374.54,397.26 L376.22,396.80 L377.91,396.34 L379.59,395.88 L381.28,395.43 L382.96,394.97 L384.65,394.52 L386.34,394.06 L388.02,393.61 L389.71,393.16 L391.39,392.71 L393.08,392.26 L394.76,391.81 L396.45,391.36 L398.13,390.91 L399.82,390.46 L401.51,390.02 L403.19,389.57 L404.88,389.12 L406.56,388.68 L408.25,388.23 L409.93,387.79 L411.62,387.34 L413.30,386.90 L414.99,386.45 L416.68,386.01 L418.36,385.56 L420.05,385.12 L421.73,384.67 L423.42,384.22 L425.10,383.78 L426.79,383.33 L428.47,382.89 L430.16,382.44 L431.85,381.99 L433.53,381.54 L435.22,381.09 L436.90,380.64 L438.59,380.19 L440.27,379.74 L441.96,379.29 L443.64,378.84 L445.33,378.39 L447.02,377.93 L448.70,377.48 L450.39,377.03 L452.07,376.58 L453.76,376.13 L455.44,375.67 L457.13,375.22 L458.81,374.77 L460.50,374.32 L462.18,373.87 L463.87,373.41 L465.56,372.96 L467.24,372.51 L468.93,372.06 L470.61,371.61 L472.30,371.16 L473.98,370.71 L475.67,370.26 L477.35,369.81 L479.04,369.36 L480.73,368.91 L482.41,368.46 L484.10,368.01 L485.78,367.56 L487.47,367.12 L489.15,366.67 L490.84,366.22 L492.52,365.78 L494.21,365.33 L495.90,364.89 L497.58,364.45 L499.27,364.01 L500.95,363.56 L502.64,363.12 L504.32,362.68 L506.01,362.24 L507.69,361.81 L509.38,361.37 L511.07,360.93 L512.75,360.50 L514.44,360.06 L516.12,359.63 L517.81,359.20 L519.49,358.77 L521.18,358.34 L522.86,357.91 L524.55,357.49 L526.24,357.06 L527.92,356.64 L529.61,356.21 L531.29,355.79 L532.98,355.37 L534.66,354.96 L536.35,354.54 L538.03,354.13 L539.72,353.71 L541.41,353.30 L543.09,352.89 L544.78,352.48 L546.46,352.08 L548.15,351.67 L549.83,351.27 L551.52,350.87 L553.20,350.47 L554.89,350.08 L556.57,349.68 L558.26,349.28 L559.95,348.89 L561.63,348.49 L563.32,348.10 L565.00,347.70 L566.69,347.31 L568.37,346.92 L570.06,346.53 L571.74,346.14 L573.43,345.75 L575.12,345.36 L576.80,344.97 L578.49,344.59 L580.17,344.20 L581.86,343.82 L583.54,343.43 L585.23,343.05 L586.91,342.67 L588.60,342.29 L590.29,341.91 L591.97,341.53 L593.66,341.15 L595.34,340.77 L597.03,340.40 L598.71,340.02 L600.40,339.65 L602.08,339.28 L603.77,338.90 L605.46,338.53 L607.14,338.16 L608.83,337.79 L610.51,337.42 L612.20,337.06 L613.88,336.69 L615.57,336.33 L617.25,335.96 L618.94,335.60 L620.63,335.24 L622.31,334.88 L624.00,334.52 L625.68,334.16 L627.37,333.80 L629.05,333.45 L630.74,333.09 L632.42,332.74 L634.11,332.39 L635.80,332.04 L637.48,331.69 L639.17,331.34 L640.85,330.99 L642.54,330.64 L644.22,330.30 L645.91,329.95 L647.59,329.61 L649.28,329.27 L650.96,328.93 L652.65,328.59 L654.34,328.25 L656.02,327.92 L657.71,327.58 L659.39,327.25 L661.08,326.91 L662.76,326.58 L664.45,326.25 L666.13,325.92 L667.82,325.60 L669.51,325.27 L671.19,324.94 L672.88,324.62 L674.56,324.29 L676.25,323.96 L677.93,323.64 L679.62,323.32 L681.30,322.99 L682.99,322.67 L684.68,322.35 L686.36,322.03 L688.05,321.71 L689.73,321.39 L691.42,321.07 L693.10,320.75 L694.79,320.43 L696.47,320.12 L698.16,319.80 L699.85,319.48 L701.53,319.17 L703.22,318.86 L704.90,318.54 L706.59,318.23 L708.27,317.92 L709.96,317.61 L711.64,317.30 L713.33,316.99 L715.02,316.69 L716.70,316.38 L718.39,316.07 L720.07,315.77 L721.76,315.46 L723.44,315.16 L725.13,314.86 L726.81,314.56 L728.50,314.26 L730.19,313.96 L731.87,313.66 L733.56,313.36 L735.24,313.07 L736.93,312.77 L738.61,312.48 L740.30,312.19 L741.98,311.89 L743.67,311.60 L745.35,311.31 L747.04,311.02 L748.73,310.74 L750.41,310.45 L752.10,310.16 L753.78,309.88 L755.47,309.60 L757.15,309.31 L758.84,309.03 L760.52,308.75 L762.21,308.48 L763.90,308.20 L765.58,307.92 L767.27,307.65 L768.95,307.37 L770.64,307.10 L772.32,306.83 L774.01,306.56 L775.69,306.29 L777.38,306.02" fill="none" stroke="#ff00ff" stroke-width="2.40" stroke-dasharray="7,2.1,1.4,2.5,1.4,2.1,7,1.6" clip-path="url(#c1)"/>
<path d="M104.85,483.74 L106.54,482.83 L108.22,481.98 L109.91,481.19 L111.59,480.42 L113.28,479.69 L114.96,478.99 L116.65,478.30 L118.34,477.64 L120.02,476.98 L121.71,476.35 L123.39,475.72 L125.08,475.11 L126.76,474.50 L128.45,473.91 L130.13,473.32 L131.82,472.74 L133.51,472.16 L135.19,471.60 L136.88,471.03 L138.56,470.48 L140.25,469.92 L141.93,469.38 L143.62,468.83 L145.30,468.29 L146.99,467.75 L148.68,467.22 L150.36,466.69 L152.05,466.16 L153.73,465.63 L155.42,465.11 L157.10,464.59 L158.79,464.07 L160.47,463.55 L162.16,463.03 L163.85,462.52 L165.53,462.01 L167.22,461.49 L168.90,460.98 L170.59,460.47 L172.27,459.96 L173.96,459.45 L175.64,458.95 L177.33,458.44 L179.02,457.93 L180.70,457.43 L182.39,456.92 L184.07,456.42 L185.76,455.91 L187.44,455.41 L189.13,454.90 L190.81,454.40 L192.50,453.89 L194.18,453.39 L195.87,452.88 L197.56,452.38 L199.24,451.87 L200.93,451.37 L202.61,450.86 L204.30,450.35 L205.98,449.85 L207.67,449.34 L209.35,448.83 L211.04,448.32 L212.73,447.81 L214.41,447.30 L216.10,446.79 L217.78,446.28 L219.47,445.76 L221.15,445.24 L222.84,444.73 L224.52,444.21 L226.21,443.69 L227.90,443.17 L229.58,442.64 L231.27,442.12 L232.95,441.59 L234.64,441.06 L236.32,440.53 L238.01,440.00 L239.69,439.47 L241.38,438.93 L243.07,438.39 L244.75,437.85 L246.44,437.31 L248.12,436.77 L249.81,436.23 L251.49,435.68 L253.18,435.14 L254.86,434.59 L256.55,434.04 L258.24,433.49 L259.92,432.93 L261.61,432.38 L263.29,431.82 L264.98,431.26 L266.66,430.70 L268.35,430.14 L270.03,429.57 L271.72,429.01 L273.41,428.44 L275.09,427.88 L276.78,427.31 L278.46,426.74 L280.15,426.16 L281.83,425.59 L283.52,425.02 L285.20,424.44 L286.89,423.86 L288.57,423.28 L290.26,422.70 L291.95,422.12 L293.63,421.54 L295.32,420.96 L297.00,420.38 L298.69,419.79 L300.37,419.21 L302.06,418.62 L303.74,418.04 L305.43,417.45 L307.12,416.87 L308.80,416.28 L310.49,415.69 L312.17,415.10 L313.86,414.52 L315.54,413.93 L317.23,413.34 L318.91,412.76 L320.60,412.17 L322.29,411.58 L323.97,411.00 L325.66,410.41 L327.34,409.83 L329.03,409.24 L330.71,408.65 L332.40,408.06 L334.08,407.48 L335.77,406.89 L337.46,406.30 L339.14,405.71 L340.83,405.12 L342.51,404.53 L344.20,403.94 L345.88,403.34 L347.57,402.75 L349.25,402.16 L350.94,401.57 L352.63,400.97 L354.31,400.38 L356.00,399.78 L357.68,399.18 L359.37,398.59 L361.05,397.99 L362.74,397.39 L364.42,396.80 L366.11,396.20 L367.79,395.60 L369.48,395.00 L371.17,394.40 L372.85,393.80 L374.54,393.20 L376.22,392.59 L377.91,391.99 L379.59,391.39 L381.28,390.79 L382.96,390.18 L384.65,389.58 L386.34,388.97 L388.02,388.37 L389.71,387.76 L391.39,387.16 L393.08,386.55 L394.76,385.94 L396.45,385.33 L398.13,384.72 L399.82,384.11 L401.51,383.50 L403.19,382.89 L404.88,382.28 L406.56,381.67 L408.25,381.06 L409.93,380.45 L411.62,379.83 L413.30,379.22 L414.99,378.61 L416.68,377.99 L418.36,377.38 L420.05,376.76 L421.73,376.14 L423.42,375.53 L425.10,374.91 L426.79,374.29 L428.47,373.67 L430.16,373.05 L431.85,372.43 L433.53,371.81 L435.22,371.19 L436.90,370.56 L438.59,369.94 L440.27,369.32 L441.96,368.69 L443.64,368.06 L445.33,367.44 L447.02,366.81 L448.70,366.18 L450.39,365.55 L452.07,364.92 L453.76,364.29 L455.44,363.66 L457.13,363.03 L458.81,362.39 L460.50,361.76 L462.18,361.12 L463.87,360.49 L465.56,359.85 L467.24,359.22 L468.93,358.58 L470.61,357.94 L472.30,357.31 L473.98,356.67 L475.67,356.03 L477.35,355.39 L479.04,354.76 L480.73,354.12 L482.41,353.48 L484.10,352.84 L485.78,352.20 L487.47,351.57 L489.15,350.93 L490.84,350.29 L492.52,349.65 L494.21,349.02 L495.90,348.38 L497.58,347.74 L499.27,347.11 L500.95,346.47 L502.64,345.84 L504.32,345.20 L506.01,344.57 L507.69,343.94 L509.38,343.31 L511.07,342.68 L512.75,342.05 L514.44,341.42 L516.12,340.79 L517.81,340.16 L519.49,339.54 L521.18,338.91 L522.86,338.29 L524.55,337.67 L526.24,337.04 L527.92,336.43 L529.61,335.81 L531.29,335.19 L532.98,334.58 L534.66,333.96 L536.35,333.35 L538.03,332.74 L539.72,332.14 L541.41,331.53 L543.09,330.93 L544.78,330.32 L546.46,329.72 L548.15,329.13 L549.83,328.53 L551.52,327.94 L553.20,327.35 L554.89,326.76 L556.57,326.17 L558.26,325.58 L559.95,324.99 L561.63,324.40 L563.32,323.81 L565.00,323.23 L566.69,322.64 L568.37,322.06 L570.06,321.47 L571.74,320.89 L573.43,320.31 L575.12,319.73 L576.80,319.15 L578.49,318.57 L580.17,317.99 L581.86,317.41 L583.54,316.84 L585.23,316.26 L586.91,315.69 L588.60,315.12 L590.29,314.55 L591.97,313.98 L593.66,313.42 L595.34,312.85 L597.03,312.29 L598.71,311.72 L600.40,311.16 L602.08,310.60 L603.77,310.05 L605.46,309.49 L607.14,308.94 L608.83,308.38 L610.51,307.83 L612.20,307.28 L613.88,306.74 L615.57,306.19 L617.25,305.65 L618.94,305.11 L620.63,304.57 L622.31,304.03 L624.00,303.49 L625.68,302.96 L627.37,302.43 L629.05,301.90 L630.74,301.37 L632.42,300.85 L634.11,300.32 L635.80,299.80 L637.48,299.29 L639.17,298.77 L640.85,298.26 L642.54,297.75 L644.22,297.24 L645.91,296.73 L647.59,296.23 L649.28,295.73 L650.96,295.23 L652.65,294.73 L654.34,294.24 L656.02,293.75 L657.71,293.26 L659.39,292.78 L661.08,292.30 L662.76,291.82 L664.45,291.34 L666.13,290.86 L667.82,290.39 L669.51,289.92 L671.19,289.45 L672.88,288.98 L674.56,288.51 L676.25,288.04 L677.93,287.58 L679.62,287.11 L681.30,286.65 L682.99,286.19 L684.68,285.73 L686.36,285.27 L688.05,284.81 L689.73,284.36 L691.42,283.90 L693.10,283.45 L694.79,283.00 L696.47,282.55 L698.16,282.10 L699.85,281.66 L701.53,281.21 L703.22,280.77 L704.90,280.33 L706.59,279.89 L708.27,279.45 L709.96,279.02 L711.64,278.59 L713.33,278.15 L715.02,277.72 L716.70,277.29 L718.39,276.87 L720.07,276.44 L721.76,276.02 L723.44,275.60 L725.13,275.18 L726.81,274.76 L728.50,274.35 L730.19,273.93 L731.87,273.52 L733.56,273.11 L735.24,272.71 L736.93,272.30 L738.61,271.90 L740.30,271.50 L741.98,271.10 L743.67,270.70 L745.35,270.30 L747.04,269.91 L748.73,269.52 L750.41,269.13 L752.10,268.74 L753.78,268.36 L755.47,267.98 L757.15,267.60 L758.84,267.22 L760.52,266.84 L762.21,266.47 L763.90,266.10 L765.58,265.73 L767.27,265.36 L768.95,265.00 L770.64,264.64 L772.32,264.28 L774.01,263.92 L775.69,263.56 L777.38,263.21" fill="none" stroke="#ffa500" stroke-width="3.15" clip-path="url(#c1)"/>
<path d="M104.85,719.79 L108.23,719.74 L111.61,719.69 L114.99,719.64 L118.37,719.59 L121.75,719.55 L125.13,719.50 L128.51,719.45 L131.89,719.40 L135.27,719.35 L138.65,719.30 L142.03,719.25 L145.41,719.20 L148.79,719.15 L152.17,719.10 L155.54,719.06 L158.92,719.01 L162.30,718.96 L165.68,718.91 L169.06,718.86 L172.44,718.81 L175.82,718.76 L179.20,718.71 L182.58,718.66 L185.96,718.61 L189.34,718.57 L192.72,718.52 L196.10,718.47 L199.48,718.42 L202.86,718.37 L206.24,718.32 L209.62,718.27 L213.00,718.22 L216.38,718.17 L219.76,718.12 L223.14,718.07 L226.51,718.03 L229.89,717.98 L233.27,717.93 L236.65,717.88 L240.03,717.83 L243.41,717.78 L246.79,717.73 L250.17,717.68 L253.55,717.63 L256.93,717.58 L260.31,717.54 L263.69,717.49 L267.07,717.44 L270.45,717.39 L273.83,717.34 L277.21,717.29 L280.59,717.24 L283.97,717.19 L287.35,717.14 L290.73,717.09 L294.11,717.05 L297.49,717.00 L300.86,716.95 L304.24,716.90 L307.62,716.85 L311.00,716.80 L314.38,716.75 L317.76,716.70 L321.14,716.65 L324.52,716.60 L327.90,716.56 L331.28,716.51 L334.66,716.46 L338.04,716.41 L341.42,716.36 L344.80,716.31 L348.18,716.26 L351.56,716.21 L354.94,716.16 L358.32,716.11 L361.70,716.06 L365.08,716.02 L368.46,715.97 L371.84,715.92 L375.21,715.87 L378.59,715.82 L381.97,715.77 L385.35,715.72 L388.73,715.67 L392.11,715.62 L395.49,715.57 L398.87,715.53 L402.25,715.48 L405.63,715.43 L409.01,715.38 L412.39,715.33 L415.77,715.28 L419.15,715.23 L422.53,715.18 L425.91,715.13 L429.29,715.08 L432.67,715.04 L436.05,714.99 L439.43,714.94 L442.81,714.89 L446.19,714.84 L449.56,714.79 L452.94,714.74 L456.32,714.69 L459.70,714.64 L463.08,714.59 L466.46,714.54 L469.84,714.50 L473.22,714.45 L476.60,714.40 L479.98,714.35 L483.36,714.30 L486.74,714.25 L490.12,714.20 L493.50,714.15 L496.88,714.10 L500.26,714.05 L503.64,714.01 L507.02,713.96 L510.40,713.91 L513.78,713.86 L517.16,713.81 L520.53,713.76 L523.91,713.71 L527.29,713.66 L530.67,713.61 L534.05,713.56 L537.43,713.52 L540.81,713.47 L544.19,713.42 L547.57,713.37 L550.95,713.32 L554.33,713.27 L557.71,713.22 L561.09,713.17 L564.47,713.12 L567.85,713.07 L571.23,713.03 L574.61,712.98 L577.99,712.93 L581.37,712.88 L584.75,712.83 L588.13,712.78 L591.51,712.73 L594.88,712.68 L598.26,712.63 L601.64,712.58 L605.02,712.53 L608.40,712.49 L611.78,712.44 L615.16,712.39 L618.54,712.34 L621.92,712.29 L625.30,712.24 L628.68,712.19 L632.06,712.14 L635.44,712.09 L638.82,712.04 L642.20,712.00 L645.58,711.95 L648.96,711.90 L652.34,711.85 L655.72,711.80 L659.10,711.75 L662.48,711.70 L665.86,711.65 L669.23,711.60 L672.61,711.55 L675.99,711.51 L679.37,711.46 L682.75,711.41 L686.13,711.36 L689.51,711.31 L692.89,711.26 L696.27,711.21 L699.65,711.16 L703.03,711.11 L706.41,711.06 L709.79,711.02 L713.17,710.97 L716.55,710.92 L719.93,710.87 L723.31,710.82 L726.69,710.77 L730.07,710.72 L733.45,710.67 L736.83,710.62 L740.21,710.57 L743.58,710.52 L746.96,710.48 L750.34,710.43 L753.72,710.38 L757.10,710.33 L760.48,710.28 L763.86,710.23 L767.24,710.18 L770.62,710.13 L774.00,710.08 L777.38,710.03" fill="none" stroke="#2e8b57" stroke-width="1.45" stroke-dasharray="6.9,2.5" clip-path="url(#c2)"/>
<path d="M104.85,719.13 L108.23,718.64 L111.61,718.14 L114.99,717.65 L118.37,717.15 L121.75,716.65 L125.13,716.15 L128.51,715.65 L131.89,715.14 L135.27,714.64 L138.65,714.13 L142.03,713.63 L145.41,713.12 L148.79,712.60 L152.17,712.09 L155.54,711.58 L158.92,711.06 L162.30,710.55 L165.68,710.03 L169.06,709.50 L172.44,708.97 L175.82,708.44 L179.20,707.91 L182.58,707.38 L185.96,706.84 L189.34,706.30 L192.72,705.77 L196.10,705.23 L199.48,704.69 L202.86,704.16 L206.24,703.63 L209.62,703.10 L213.00,702.57 L216.38,702.05 L219.76,701.53 L223.14,701.01 L226.51,700.50 L229.89,699.99 L233.27,699.49 L236.65,698.98 L240.03,698.48 L243.41,697.98 L246.79,697.48 L250.17,696.97 L253.55,696.47 L256.93,695.97 L260.31,695.46 L263.69,694.95 L267.07,694.44 L270.45,693.93 L273.83,693.42 L277.21,692.90 L280.59,692.37 L283.97,691.85 L287.35,691.32 L290.73,690.79 L294.11,690.26 L297.49,689.73 L300.86,689.20 L304.24,688.67 L307.62,688.13 L311.00,687.60 L314.38,687.06 L317.76,686.53 L321.14,685.99 L324.52,685.46 L327.90,684.93 L331.28,684.40 L334.66,683.87 L338.04,683.33 L341.42,682.80 L344.80,682.27 L348.18,681.73 L351.56,681.20 L354.94,680.66 L358.32,680.13 L361.70,679.59 L365.08,679.06 L368.46,678.53 L371.84,678.00 L375.21,677.47 L378.59,676.95 L381.97,676.42 L385.35,675.90 L388.73,675.38 L392.11,674.86 L395.49,674.35 L398.87,673.84 L402.25,673.33 L405.63,672.82 L409.01,672.31 L412.39,671.81 L415.77,671.30 L419.15,670.80 L422.53,670.29 L425.91,669.79 L429.29,669.28 L432.67,668.78 L436.05,668.28 L439.43,667.77 L442.81,667.26 L446.19,666.76 L449.56,666.25 L452.94,665.74 L456.32,665.24 L459.70,664.73 L463.08,664.23 L466.46,663.72 L469.84,663.21 L473.22,662.71 L476.60,662.20 L479.98,661.69 L483.36,661.19 L486.74,660.68 L490.12,660.17 L493.50,659.66 L496.88,659.15 L500.26,658.64 L503.64,658.12 L507.02,657.61 L510.40,657.09 L513.78,656.57 L517.16,656.05 L520.53,655.54 L523.91,655.02 L527.29,654.50 L530.67,653.98 L534.05,653.45 L537.43,652.93 L540.81,652.41 L544.19,651.89 L547.57,651.37 L550.95,650.85 L554.33,650.33 L557.71,649.81 L561.09,649.29 L564.47,648.77 L567.85,648.26 L571.23,647.74 L574.61,647.22 L577.99,646.70 L581.37,646.19 L584.75,645.67 L588.13,645.15 L591.51,644.63 L594.88,644.11 L598.26,643.60 L601.64,643.07 L605.02,642.55 L608.40,642.03 L611.78,641.51 L615.16,640.98 L618.54,640.46 L621.92,639.93 L625.30,639.39 L628.68,638.86 L632.06,638.33 L635.44,637.79 L638.82,637.26 L642.20,636.72 L645.58,636.19 L648.96,635.65 L652.34,635.12 L655.72,634.59 L659.10,634.06 L662.48,633.53 L665.86,633.01 L669.23,632.49 L672.61,631.97 L675.99,631.45 L679.37,630.94 L682.75,630.43 L686.13,629.92 L689.51,629.41 L692.89,628.91 L696.27,628.40 L699.65,627.90 L703.03,627.40 L706.41,626.89 L709.79,626.39 L713.17,625.88 L716.55,625.38 L719.93,624.87 L723.31,624.37 L726.69,623.86 L730.07,623.35 L733.45,622.83 L736.83,622.32 L740.21,621.81 L743.58,621.30 L746.96,620.79 L750.34,620.28 L753.72,619.76 L757.10,619.25 L760.48,618.74 L763.86,618.22 L767.24,617.71 L770.62,617.19 L774.00,616.68 L777.38,616.17" fill="none" stroke="#31638a" stroke-width="1.45" stroke-dasharray="2.5,2.35" clip-path="url(#c2)"/>
<circle cx="104.85" cy="719.79" r="3.0" fill="#2e8b57"/>
<rect x="102.05" y="716.33" width="5.6" height="5.6" fill="#31638a"/>
<circle cx="161.37" cy="718.97" r="3.0" fill="#2e8b57"/>
<rect x="158.57" y="707.89" width="5.6" height="5.6" fill="#31638a"/>
<circle cx="217.88" cy="718.15" r="3.0" fill="#2e8b57"/>
<rect x="215.08" y="699.02" width="5.6" height="5.6" fill="#31638a"/>
<circle cx="274.40" cy="717.33" r="3.0" fill="#2e8b57"/>
<rect x="271.60" y="690.53" width="5.6" height="5.6" fill="#31638a"/>
<circle cx="330.91" cy="716.51" r="3.0" fill="#2e8b57"/>
<rect x="328.11" y="681.65" width="5.6" height="5.6" fill="#31638a"/>
<circle cx="387.43" cy="715.69" r="3.0" fill="#2e8b57"/>
<rect x="384.63" y="672.78" width="5.6" height="5.6" fill="#31638a"/>
<circle cx="443.94" cy="714.87" r="3.0" fill="#2e8b57"/>
<rect x="441.14" y="664.29" width="5.6" height="5.6" fill="#31638a"/>
<circle cx="500.46" cy="714.05" r="3.0" fill="#2e8b57"/>
<rect x="497.66" y="655.81" width="5.6" height="5.6" fill="#31638a"/>
<circle cx="556.97" cy="713.23" r="3.0" fill="#2e8b57"/>
<rect x="554.17" y="647.12" width="5.6" height="5.6" fill="#31638a"/>
<circle cx="613.49" cy="712.41" r="3.0" fill="#2e8b57"/>
<rect x="610.69" y="638.44" width="5.6" height="5.6" fill="#31638a"/>
<circle cx="670.00" cy="711.59" r="3.0" fill="#2e8b57"/>
<rect x="667.20" y="629.57" width="5.6" height="5.6" fill="#31638a"/>
<circle cx="726.52" cy="710.77" r="3.0" fill="#2e8b57"/>
<rect x="723.72" y="621.08" width="5.6" height="5.6" fill="#31638a"/>
<path d="M104.85,717.27 L106.54,716.47 L108.22,715.69 L109.91,714.90 L111.59,714.12 L113.28,713.35 L114.96,712.58 L116.65,711.82 L118.34,711.07 L120.02,710.32 L121.71,709.58 L123.39,708.84 L125.08,708.11 L126.76,707.38 L128.45,706.66 L130.13,705.94 L131.82,705.23 L133.51,704.52 L135.19,703.81 L136.88,703.11 L138.56,702.41 L140.25,701.72 L141.93,701.02 L143.62,700.33 L145.30,699.64 L146.99,698.96 L148.68,698.28 L150.36,697.59 L152.05,696.92 L153.73,696.24 L155.42,695.56 L157.10,694.89 L158.79,694.21 L160.47,693.54 L162.16,692.87 L163.85,692.20 L165.53,691.53 L167.22,690.85 L168.90,690.17 L170.59,689.48 L172.27,688.79 L173.96,688.10 L175.64,687.41 L177.33,686.72 L179.02,686.03 L180.70,685.34 L182.39,684.66 L184.07,683.97 L185.76,683.29 L187.44,682.62 L189.13,681.94 L190.81,681.28 L192.50,680.62 L194.18,679.97 L195.87,679.33 L197.56,678.69 L199.24,678.07 L200.93,677.45 L202.61,676.85 L204.30,676.26 L205.98,675.68 L207.67,675.11 L209.35,674.56 L211.04,674.02 L212.73,673.50 L214.41,672.99 L216.10,672.49 L217.78,671.99 L219.47,671.51 L221.15,671.03 L222.84,670.56 L224.52,670.09 L226.21,669.64 L227.90,669.19 L229.58,668.74 L231.27,668.31 L232.95,667.87 L234.64,667.45 L236.32,667.02 L238.01,666.61 L239.69,666.19 L241.38,665.78 L243.07,665.38 L244.75,664.98 L246.44,664.58 L248.12,664.18 L249.81,663.78 L251.49,663.39 L253.18,663.00 L254.86,662.61 L256.55,662.22 L258.24,661.83 L259.92,661.45 L261.61,661.06 L263.29,660.67 L264.98,660.28 L266.66,659.89 L268.35,659.50 L270.03,659.11 L271.72,658.71 L273.41,658.32 L275.09,657.92 L276.78,657.52 L278.46,657.11 L280.15,656.70 L281.83,656.29 L283.52,655.87 L285.20,655.45 L286.89,655.03 L288.57,654.59 L290.26,654.16 L291.95,653.72 L293.63,653.27 L295.32,652.82 L297.00,652.37 L298.69,651.91 L300.37,651.45 L302.06,650.99 L303.74,650.53 L305.43,650.06 L307.12,649.60 L308.80,649.14 L310.49,648.67 L312.17,648.21 L313.86,647.75 L315.54,647.29 L317.23,646.84 L318.91,646.38 L320.60,645.94 L322.29,645.49 L323.97,645.05 L325.66,644.61 L327.34,644.18 L329.03,643.75 L330.71,643.32 L332.40,642.88 L334.08,642.45 L335.77,642.03 L337.46,641.60 L339.14,641.17 L340.83,640.75 L342.51,640.32 L344.20,639.90 L345.88,639.47 L347.57,639.05 L349.25,638.63 L350.94,638.21 L352.63,637.79 L354.31,637.37 L356.00,636.95 L357.68,636.53 L359.37,636.12 L361.05,635.70 L362.74,635.29 L364.42,634.87 L366.11,634.46 L367.79,634.05 L369.48,633.63 L371.17,633.22 L372.85,632.81 L374.54,632.40 L376.22,631.99 L377.91,631.58 L379.59,631.18 L381.28,630.77 L382.96,630.36 L384.65,629.96 L386.34,629.55 L388.02,629.15 L389.71,628.74 L391.39,628.34 L393.08,627.94 L394.76,627.54 L396.45,627.14 L398.13,626.73 L399.82,626.33 L401.51,625.93 L403.19,625.53 L404.88,625.14 L406.56,624.74 L408.25,624.34 L409.93,623.94 L411.62,623.55 L413.30,623.15 L414.99,622.75 L416.68,622.36 L418.36,621.96 L420.05,621.57 L421.73,621.17 L423.42,620.78 L425.10,620.39 L426.79,619.99 L428.47,619.60 L430.16,619.21 L431.85,618.82 L433.53,618.43 L435.22,618.04 L436.90,617.64 L438.59,617.25 L440.27,616.86 L441.96,616.47 L443.64,616.08 L445.33,615.69 L447.02,615.30 L448.70,614.91 L450.39,614.52 L452.07,614.13 L453.76,613.74 L455.44,613.36 L457.13,612.97 L458.81,612.58 L460.50,612.19 L462.18,611.80 L463.87,611.41 L465.56,611.03 L467.24,610.64 L468.93,610.25 L470.61,609.87 L472.30,609.48 L473.98,609.10 L475.67,608.71 L477.35,608.33 L479.04,607.94 L480.73,607.56 L482.41,607.18 L484.10,606.80 L485.78,606.42 L487.47,606.03 L489.15,605.65 L490.84,605.27 L492.52,604.90 L494.21,604.52 L495.90,604.14 L497.58,603.76 L499.27,603.39 L500.95,603.01 L502.64,602.64 L504.32,602.26 L506.01,601.89 L507.69,601.52 L509.38,601.15 L511.07,600.78 L512.75,600.41 L514.44,600.04 L516.12,599.67 L517.81,599.31 L519.49,598.94 L521.18,598.57 L522.86,598.21 L524.55,597.85 L526.24,597.49 L527.92,597.13 L529.61,596.77 L531.29,596.41 L532.98,596.05 L534.66,595.70 L536.35,595.34 L538.03,594.99 L539.72,594.64 L541.41,594.28 L543.09,593.93 L544.78,593.59 L546.46,593.24 L548.15,592.89 L549.83,592.55 L551.52,592.20 L553.20,591.86 L554.89,591.52 L556.57,591.18 L558.26,590.84 L559.95,590.50 L561.63,590.16 L563.32,589.82 L565.00,589.49 L566.69,589.15 L568.37,588.81 L570.06,588.48 L571.74,588.15 L573.43,587.81 L575.12,587.48 L576.80,587.15 L578.49,586.82 L580.17,586.49 L581.86,586.16 L583.54,585.83 L585.23,585.50 L586.91,585.17 L588.60,584.85 L590.29,584.52 L591.97,584.20 L593.66,583.87 L595.34,583.55 L597.03,583.23 L598.71,582.90 L600.40,582.58 L602.08,582.26 L603.77,581.94 L605.46,581.63 L607.14,581.31 L608.83,580.99 L610.51,580.68 L612.20,580.36 L613.88,580.05 L615.57,579.73 L617.25,579.42 L618.94,579.11 L620.63,578.80 L622.31,578.49 L624.00,578.18 L625.68,577.87 L627.37,577.56 L629.05,577.25 L630.74,576.95 L632.42,576.64 L634.11,576.34 L635.80,576.03 L637.48,575.73 L639.17,575.43 L640.85,575.13 L642.54,574.83 L644.22,574.53 L645.91,574.23 L647.59,573.93 L649.28,573.64 L650.96,573.34 L652.65,573.05 L654.34,572.75 L656.02,572.46 L657.71,572.17 L659.39,571.88 L661.08,571.59 L662.76,571.30 L664.45,571.01 L666.13,570.72 L667.82,570.43 L669.51,570.15 L671.19,569.86 L672.88,569.57 L674.56,569.29 L676.25,569.01 L677.93,568.72 L679.62,568.44 L681.30,568.16 L682.99,567.88 L684.68,567.60 L686.36,567.32 L688.05,567.04 L689.73,566.76 L691.42,566.48 L693.10,566.20 L694.79,565.93 L696.47,565.65 L698.16,565.37 L699.85,565.10 L701.53,564.83 L703.22,564.55 L704.90,564.28 L706.59,564.01 L708.27,563.74 L709.96,563.47 L711.64,563.20 L713.33,562.93 L715.02,562.66 L716.70,562.39 L718.39,562.13 L720.07,561.86 L721.76,561.60 L723.44,561.33 L725.13,561.07 L726.81,560.80 L728.50,560.54 L730.19,560.28 L731.87,560.02 L733.56,559.76 L735.24,559.50 L736.93,559.24 L738.61,558.99 L740.30,558.73 L741.98,558.47 L743.67,558.22 L745.35,557.96 L747.04,557.71 L748.73,557.46 L750.41,557.20 L752.10,556.95 L753.78,556.70 L755.47,556.45 L757.15,556.20 L758.84,555.95 L760.52,555.71 L762.21,555.46 L763.90,555.21 L765.58,554.97 L767.27,554.72 L768.95,554.48 L770.64,554.24 L772.32,554.00 L774.01,553.76 L775.69,553.52 L777.38,553.28" fill="none" stroke="#228b22" stroke-width="2.40" stroke-dasharray="7.0,2.42" clip-path="url(#c2)"/>
<path d="M104.85,718.04 L106.54,717.47 L108.22,716.90 L109.91,716.32 L111.59,715.75 L113.28,715.18 L114.96,714.61 L116.65,714.03 L118.34,713.46 L120.02,712.89 L121.71,712.31 L123.39,711.74 L125.08,711.16 L126.76,710.59 L128.45,710.01 L130.13,709.44 L131.82,708.86 L133.51,708.29 L135.19,707.71 L136.88,707.13 L138.56,706.55 L140.25,705.98 L141.93,705.40 L143.62,704.82 L145.30,704.24 L146.99,703.66 L148.68,703.08 L150.36,702.50 L152.05,701.92 L153.73,701.34 L155.42,700.76 L157.10,700.18 L158.79,699.60 L160.47,699.02 L162.16,698.43 L163.85,697.85 L165.53,697.27 L167.22,696.69 L168.90,696.10 L170.59,695.52 L172.27,694.93 L173.96,694.35 L175.64,693.76 L177.33,693.18 L179.02,692.59 L180.70,692.01 L182.39,691.42 L184.07,690.83 L185.76,690.25 L187.44,689.66 L189.13,689.07 L190.81,688.48 L192.50,687.90 L194.18,687.31 L195.87,686.72 L197.56,686.13 L199.24,685.54 L200.93,684.95 L202.61,684.36 L204.30,683.77 L205.98,683.18 L207.67,682.58 L209.35,681.99 L211.04,681.40 L212.73,680.81 L214.41,680.22 L216.10,679.62 L217.78,679.03 L219.47,678.43 L221.15,677.84 L222.84,677.24 L224.52,676.65 L226.21,676.05 L227.90,675.46 L229.58,674.86 L231.27,674.26 L232.95,673.67 L234.64,673.07 L236.32,672.47 L238.01,671.87 L239.69,671.27 L241.38,670.68 L243.07,670.08 L244.75,669.48 L246.44,668.88 L248.12,668.28 L249.81,667.68 L251.49,667.08 L253.18,666.48 L254.86,665.88 L256.55,665.27 L258.24,664.67 L259.92,664.07 L261.61,663.47 L263.29,662.87 L264.98,662.27 L266.66,661.66 L268.35,661.06 L270.03,660.46 L271.72,659.86 L273.41,659.26 L275.09,658.66 L276.78,658.06 L278.46,657.46 L280.15,656.86 L281.83,656.26 L283.52,655.65 L285.20,655.04 L286.89,654.43 L288.57,653.81 L290.26,653.19 L291.95,652.56 L293.63,651.93 L295.32,651.29 L297.00,650.65 L298.69,650.01 L300.37,649.36 L302.06,648.71 L303.74,648.06 L305.43,647.41 L307.12,646.75 L308.80,646.09 L310.49,645.44 L312.17,644.78 L313.86,644.12 L315.54,643.46 L317.23,642.81 L318.91,642.15 L320.60,641.50 L322.29,640.85 L323.97,640.20 L325.66,639.55 L327.34,638.90 L329.03,638.26 L330.71,637.62 L332.40,636.98 L334.08,636.34 L335.77,635.71 L337.46,635.07 L339.14,634.44 L340.83,633.81 L342.51,633.17 L344.20,632.54 L345.88,631.91 L347.57,631.28 L349.25,630.65 L350.94,630.02 L352.63,629.39 L354.31,628.76 L356.00,628.12 L357.68,627.49 L359.37,626.86 L361.05,626.22 L362.74,625.59 L364.42,624.95 L366.11,624.31 L367.79,623.67 L369.48,623.03 L371.17,622.39 L372.85,621.74 L374.54,621.10 L376.22,620.45 L377.91,619.79 L379.59,619.14 L381.28,618.48 L382.96,617.82 L384.65,617.15 L386.34,616.48 L388.02,615.81 L389.71,615.14 L391.39,614.46 L393.08,613.77 L394.76,613.08 L396.45,612.39 L398.13,611.70 L399.82,611.00 L401.51,610.29 L403.19,609.59 L404.88,608.88 L406.56,608.16 L408.25,607.45 L409.93,606.73 L411.62,606.01 L413.30,605.29 L414.99,604.57 L416.68,603.85 L418.36,603.12 L420.05,602.40 L421.73,601.67 L423.42,600.95 L425.10,600.22 L426.79,599.50 L428.47,598.77 L430.16,598.04 L431.85,597.32 L433.53,596.60 L435.22,595.87 L436.90,595.15 L438.59,594.43 L440.27,593.71 L441.96,592.99 L443.64,592.27 L445.33,591.55 L447.02,590.83 L448.70,590.10 L450.39,589.38 L452.07,588.66 L453.76,587.93 L455.44,587.20 L457.13,586.48 L458.81,585.75 L460.50,585.02 L462.18,584.30 L463.87,583.57 L465.56,582.84 L467.24,582.11 L468.93,581.38 L470.61,580.65 L472.30,579.92 L473.98,579.19 L475.67,578.46 L477.35,577.73 L479.04,577.00 L480.73,576.26 L482.41,575.53 L484.10,574.80 L485.78,574.07 L487.47,573.34 L489.15,572.61 L490.84,571.88 L492.52,571.15 L494.21,570.41 L495.90,569.68 L497.58,568.95 L499.27,568.22 L500.95,567.49 L502.64,566.76 L504.32,566.03 L506.01,565.30 L507.69,564.57 L509.38,563.85 L511.07,563.12 L512.75,562.39 L514.44,561.66 L516.12,560.94 L517.81,560.21 L519.49,559.49 L521.18,558.76 L522.86,558.04 L524.55,557.31 L526.24,556.59 L527.92,555.87 L529.61,555.15 L531.29,554.43 L532.98,553.71 L534.66,552.99 L536.35,552.27 L538.03,551.56 L539.72,550.84 L541.41,550.13 L543.09,549.41 L544.78,548.70 L546.46,547.99 L548.15,547.28 L549.83,546.57 L551.52,545.86 L553.20,545.16 L554.89,544.45 L556.57,543.75 L558.26,543.05 L559.95,542.34 L561.63,541.64 L563.32,540.94 L565.00,540.25 L566.69,539.55 L568.37,538.85 L570.06,538.16 L571.74,537.46 L573.43,536.77 L575.12,536.07 L576.80,535.38 L578.49,534.69 L580.17,534.00 L581.86,533.31 L583.54,532.62 L585.23,531.93 L586.91,531.25 L588.60,530.56 L590.29,529.87 L591.97,529.18 L593.66,528.50 L595.34,527.81 L597.03,527.13 L598.71,526.44 L600.40,525.76 L602.08,525.07 L603.77,524.39 L605.46,523.70 L607.14,523.02 L608.83,522.34 L610.51,521.65 L612.20,520.97 L613.88,520.29 L615.57,519.60 L617.25,518.92 L618.94,518.24 L620.63,517.55 L622.31,516.87 L624.00,516.18 L625.68,515.50 L627.37,514.81 L629.05,514.13 L630.74,513.44 L632.42,512.76 L634.11,512.07 L635.80,511.38 L637.48,510.70 L639.17,510.01 L640.85,509.32 L642.54,508.63 L644.22,507.94 L645.91,507.25 L647.59,506.56 L649.28,505.87 L650.96,505.18 L652.65,504.49 L654.34,503.79 L656.02,503.10 L657.71,502.40 L659.39,501.70 L661.08,501.01 L662.76,500.31 L664.45,499.61 L666.13,498.90 L667.82,498.20 L669.51,497.48 L671.19,496.77 L672.88,496.05 L674.56,495.33 L676.25,494.62 L677.93,493.90 L679.62,493.18 L681.30,492.47 L682.99,491.76 L684.68,491.06 L686.36,490.36 L688.05,489.66 L689.73,488.98 L691.42,488.30 L693.10,487.63 L694.79,486.96 L696.47,486.29 L698.16,485.62 L699.85,484.95 L701.53,484.28 L703.22,483.61 L704.90,482.95 L706.59,482.28 L708.27,481.62 L709.96,480.96 L711.64,480.30 L713.33,479.64 L715.02,478.98 L716.70,478.33 L718.39,477.68 L720.07,477.02 L721.76,476.37 L723.44,475.72 L725.13,475.08 L726.81,474.43 L728.50,473.79 L730.19,473.15 L731.87,472.51 L733.56,471.87 L735.24,471.23 L736.93,470.60 L738.61,469.97 L740.30,469.34 L741.98,468.71 L743.67,468.08 L745.35,467.46 L747.04,466.84 L748.73,466.22 L750.41,465.60 L752.10,464.98 L753.78,464.37 L755.47,463.76 L757.15,463.15 L758.84,462.55 L760.52,461.94 L762.21,461.34 L763.90,460.74 L765.58,460.15 L767.27,459.56 L768.95,458.96 L770.64,458.38 L772.32,457.79 L774.01,457.21 L775.69,456.63 L777.38,456.05" fill="none" stroke="#4169e1" stroke-width="2.40" stroke-dasharray="6.8,2.2,1.4,2.2,6.8,2.1" clip-path="url(#c2)"/>
<path d="M104.85,719.22 L106.54,718.99 L108.22,718.74 L109.91,718.49 L111.59,718.23 L113.28,717.96 L114.96,717.68 L116.65,717.40 L118.34,717.11 L120.02,716.80 L121.71,716.50 L123.39,716.18 L125.08,715.85 L126.76,715.52 L128.45,715.17 L130.13,714.82 L131.82,714.46 L133.51,714.08 L135.19,713.70 L136.88,713.31 L138.56,712.92 L140.25,712.51 L141.93,712.10 L143.62,711.67 L145.30,711.24 L146.99,710.80 L148.68,710.36 L150.36,709.90 L152.05,709.44 L153.73,708.97 L155.42,708.49 L157.10,708.01 L158.79,707.51 L160.47,707.01 L162.16,706.51 L163.85,705.99 L165.53,705.46 L167.22,704.91 L168.90,704.34 L170.59,703.75 L172.27,703.15 L173.96,702.52 L175.64,701.89 L177.33,701.23 L179.02,700.57 L180.70,699.89 L182.39,699.20 L184.07,698.50 L185.76,697.80 L187.44,697.08 L189.13,696.36 L190.81,695.63 L192.50,694.90 L194.18,694.17 L195.87,693.43 L197.56,692.69 L199.24,691.96 L200.93,691.22 L202.61,690.48 L204.30,689.75 L205.98,689.03 L207.67,688.30 L209.35,687.59 L211.04,686.88 L212.73,686.18 L214.41,685.48 L216.10,684.79 L217.78,684.10 L219.47,683.42 L221.15,682.73 L222.84,682.05 L224.52,681.37 L226.21,680.69 L227.90,680.01 L229.58,679.34 L231.27,678.66 L232.95,677.99 L234.64,677.31 L236.32,676.63 L238.01,675.96 L239.69,675.28 L241.38,674.60 L243.07,673.92 L244.75,673.24 L246.44,672.56 L248.12,671.87 L249.81,671.19 L251.49,670.50 L253.18,669.80 L254.86,669.11 L256.55,668.41 L258.24,667.70 L259.92,666.99 L261.61,666.28 L263.29,665.56 L264.98,664.84 L266.66,664.11 L268.35,663.37 L270.03,662.63 L271.72,661.89 L273.41,661.14 L275.09,660.38 L276.78,659.61 L278.46,658.83 L280.15,658.05 L281.83,657.26 L283.52,656.46 L285.20,655.66 L286.89,654.84 L288.57,654.02 L290.26,653.18 L291.95,652.34 L293.63,651.47 L295.32,650.58 L297.00,649.68 L298.69,648.77 L300.37,647.84 L302.06,646.90 L303.74,645.94 L305.43,644.97 L307.12,644.00 L308.80,643.01 L310.49,642.02 L312.17,641.02 L313.86,640.01 L315.54,639.00 L317.23,637.99 L318.91,636.97 L320.60,635.96 L322.29,634.94 L323.97,633.92 L325.66,632.90 L327.34,631.88 L329.03,630.86 L330.71,629.83 L332.40,628.80 L334.08,627.77 L335.77,626.73 L337.46,625.69 L339.14,624.65 L340.83,623.60 L342.51,622.55 L344.20,621.50 L345.88,620.44 L347.57,619.38 L349.25,618.32 L350.94,617.25 L352.63,616.19 L354.31,615.11 L356.00,614.04 L357.68,612.96 L359.37,611.88 L361.05,610.80 L362.74,609.72 L364.42,608.63 L366.11,607.54 L367.79,606.45 L369.48,605.35 L371.17,604.26 L372.85,603.16 L374.54,602.06 L376.22,600.96 L377.91,599.85 L379.59,598.74 L381.28,597.64 L382.96,596.52 L384.65,595.41 L386.34,594.30 L388.02,593.18 L389.71,592.07 L391.39,590.95 L393.08,589.83 L394.76,588.71 L396.45,587.58 L398.13,586.46 L399.82,585.33 L401.51,584.21 L403.19,583.08 L404.88,581.95 L406.56,580.82 L408.25,579.69 L409.93,578.56 L411.62,577.43 L413.30,576.29 L414.99,575.16 L416.68,574.03 L418.36,572.89 L420.05,571.76 L421.73,570.62 L423.42,569.48 L425.10,568.35 L426.79,567.21 L428.47,566.07 L430.16,564.94 L431.85,563.80 L433.53,562.66 L435.22,561.52 L436.90,560.39 L438.59,559.25 L440.27,558.11 L441.96,556.97 L443.64,555.82 L445.33,554.67 L447.02,553.52 L448.70,552.36 L450.39,551.20 L452.07,550.04 L453.76,548.88 L455.44,547.71 L457.13,546.54 L458.81,545.37 L460.50,544.19 L462.18,543.01 L463.87,541.84 L465.56,540.66 L467.24,539.47 L468.93,538.29 L470.61,537.10 L472.30,535.92 L473.98,534.73 L475.67,533.54 L477.35,532.35 L479.04,531.16 L480.73,529.96 L482.41,528.77 L484.10,527.58 L485.78,526.38 L487.47,525.19 L489.15,523.99 L490.84,522.80 L492.52,521.61 L494.21,520.41 L495.90,519.22 L497.58,518.02 L499.27,516.83 L500.95,515.64 L502.64,514.45 L504.32,513.25 L506.01,512.06 L507.69,510.88 L509.38,509.69 L511.07,508.50 L512.75,507.32 L514.44,506.13 L516.12,504.95 L517.81,503.77 L519.49,502.60 L521.18,501.42 L522.86,500.25 L524.55,499.08 L526.24,497.91 L527.92,496.74 L529.61,495.58 L531.29,494.42 L532.98,493.26 L534.66,492.11 L536.35,490.95 L538.03,489.81 L539.72,488.66 L541.41,487.52 L543.09,486.38 L544.78,485.24 L546.46,484.10 L548.15,482.97 L549.83,481.84 L551.52,480.70 L553.20,479.57 L554.89,478.44 L556.57,477.32 L558.26,476.19 L559.95,475.06 L561.63,473.94 L563.32,472.82 L565.00,471.70 L566.69,470.57 L568.37,469.46 L570.06,468.34 L571.74,467.22 L573.43,466.11 L575.12,464.99 L576.80,463.88 L578.49,462.76 L580.17,461.65 L581.86,460.54 L583.54,459.43 L585.23,458.32 L586.91,457.22 L588.60,456.11 L590.29,455.00 L591.97,453.90 L593.66,452.79 L595.34,451.69 L597.03,450.58 L598.71,449.48 L600.40,448.38 L602.08,447.28 L603.77,446.18 L605.46,445.08 L607.14,443.98 L608.83,442.88 L610.51,441.78 L612.20,440.68 L613.88,439.58 L615.57,438.48 L617.25,437.39 L618.94,436.29 L620.63,435.19 L622.31,434.10 L624.00,433.00 L625.68,431.90 L627.37,430.81 L629.05,429.71 L630.74,428.61 L632.42,427.52 L634.11,426.42 L635.80,425.33 L637.48,424.23 L639.17,423.14 L640.85,422.04 L642.54,420.94 L644.22,419.85 L645.91,418.75 L647.59,417.65 L649.28,416.56 L650.96,415.46 L652.65,414.36 L654.34,413.27 L656.02,412.17 L657.71,411.08 L659.39,409.98 L661.08,408.89 L662.76,407.79 L664.45,406.70 L666.13,405.60 L667.82,404.51 L669.51,403.42 L671.19,402.32 L672.88,401.23 L674.56,400.14 L676.25,399.04 L677.93,397.95 L679.62,396.86 L681.30,395.77 L682.99,394.68 L684.68,393.59 L686.36,392.50 L688.05,391.41 L689.73,390.32 L691.42,389.23 L693.10,388.14 L694.79,387.05 L696.47,385.96 L698.16,384.88 L699.85,383.79 L701.53,382.70 L703.22,381.61 L704.90,380.53 L706.59,379.44 L708.27,378.36 L709.96,377.27 L711.64,376.18 L713.33,375.10 L715.02,374.02 L716.70,372.93 L718.39,371.85 L720.07,370.76 L721.76,369.68 L723.44,368.60 L725.13,367.52 L726.81,366.43 L728.50,365.35 L730.19,364.27 L731.87,363.19 L733.56,362.11 L735.24,361.03 L736.93,359.95 L738.61,358.87 L740.30,357.79 L741.98,356.71 L743.67,355.63 L745.35,354.55 L747.04,353.47 L748.73,352.40 L750.41,351.32 L752.10,350.24 L753.78,349.17 L755.47,348.09 L757.15,347.01 L758.84,345.94 L760.52,344.86 L762.21,343.79 L763.90,342.71 L765.58,341.64 L767.27,340.57 L768.95,339.49 L770.64,338.42 L772.32,337.35 L774.01,336.28 L775.69,335.20 L777.38,334.13" fill="none" stroke="#ff00ff" stroke-width="2.40" stroke-dasharray="7,2.1,1.4,2.5,1.4,2.1,7,1.6" clip-path="url(#c2)"/>
<path d="M104.85,718.00 L106.54,717.41 L108.22,716.83 L109.91,716.25 L111.59,715.66 L113.28,715.08 L114.96,714.50 L116.65,713.92 L118.34,713.33 L120.02,712.75 L121.71,712.17 L123.39,711.58 L125.08,711.00 L126.76,710.42 L128.45,709.84 L130.13,709.25 L131.82,708.67 L133.51,708.09 L135.19,707.51 L136.88,706.92 L138.56,706.34 L140.25,705.76 L141.93,705.17 L143.62,704.59 L145.30,704.01 L146.99,703.43 L148.68,702.84 L150.36,702.26 L152.05,701.68 L153.73,701.09 L155.42,700.51 L157.10,699.93 L158.79,699.35 L160.47,698.76 L162.16,698.18 L163.85,697.60 L165.53,697.01 L167.22,696.43 L168.90,695.85 L170.59,695.27 L172.27,694.68 L173.96,694.10 L175.64,693.52 L177.33,692.93 L179.02,692.35 L180.70,691.77 L182.39,691.19 L184.07,690.60 L185.76,690.02 L187.44,689.44 L189.13,688.85 L190.81,688.27 L192.50,687.69 L194.18,687.11 L195.87,686.52 L197.56,685.94 L199.24,685.36 L200.93,684.78 L202.61,684.19 L204.30,683.61 L205.98,683.03 L207.67,682.44 L209.35,681.86 L211.04,681.28 L212.73,680.70 L214.41,680.11 L216.10,679.53 L217.78,678.95 L219.47,678.36 L221.15,677.78 L222.84,677.20 L224.52,676.62 L226.21,676.03 L227.90,675.45 L229.58,674.87 L231.27,674.28 L232.95,673.70 L234.64,673.12 L236.32,672.54 L238.01,671.95 L239.69,671.37 L241.38,670.79 L243.07,670.20 L244.75,669.62 L246.44,669.04 L248.12,668.46 L249.81,667.87 L251.49,667.29 L253.18,666.71 L254.86,666.12 L256.55,665.54 L258.24,664.96 L259.92,664.38 L261.61,663.79 L263.29,663.21 L264.98,662.63 L266.66,662.05 L268.35,661.46 L270.03,660.88 L271.72,660.30 L273.41,659.71 L275.09,659.13 L276.78,658.55 L278.46,657.97 L280.15,657.38 L281.83,656.80 L283.52,656.22 L285.20,655.63 L286.89,655.05 L288.57,654.47 L290.26,653.89 L291.95,653.30 L293.63,652.72 L295.32,652.14 L297.00,651.55 L298.69,650.97 L300.37,650.39 L302.06,649.81 L303.74,649.22 L305.43,648.64 L307.12,648.06 L308.80,647.47 L310.49,646.89 L312.17,646.31 L313.86,645.73 L315.54,645.14 L317.23,644.56 L318.91,643.98 L320.60,643.39 L322.29,642.81 L323.97,642.23 L325.66,641.65 L327.34,641.06 L329.03,640.48 L330.71,639.90 L332.40,639.32 L334.08,638.73 L335.77,638.15 L337.46,637.57 L339.14,636.98 L340.83,636.40 L342.51,635.82 L344.20,635.24 L345.88,634.65 L347.57,634.07 L349.25,633.49 L350.94,632.90 L352.63,632.32 L354.31,631.74 L356.00,631.16 L357.68,630.57 L359.37,629.99 L361.05,629.41 L362.74,628.82 L364.42,628.24 L366.11,627.66 L367.79,627.08 L369.48,626.49 L371.17,625.91 L372.85,625.33 L374.54,624.74 L376.22,624.16 L377.91,623.58 L379.59,623.00 L381.28,622.41 L382.96,621.83 L384.65,621.25 L386.34,620.66 L388.02,620.08 L389.71,619.50 L391.39,618.92 L393.08,618.33 L394.76,617.75 L396.45,617.17 L398.13,616.59 L399.82,616.00 L401.51,615.42 L403.19,614.84 L404.88,614.25 L406.56,613.67 L408.25,613.09 L409.93,612.51 L411.62,611.92 L413.30,611.34 L414.99,610.76 L416.68,610.17 L418.36,609.59 L420.05,609.01 L421.73,608.43 L423.42,607.84 L425.10,607.26 L426.79,606.68 L428.47,606.09 L430.16,605.51 L431.85,604.93 L433.53,604.35 L435.22,603.76 L436.90,603.18 L438.59,602.60 L440.27,602.01 L441.96,601.43 L443.64,600.85 L445.33,600.27 L447.02,599.68 L448.70,599.10 L450.39,598.52 L452.07,597.93 L453.76,597.35 L455.44,596.77 L457.13,596.19 L458.81,595.60 L460.50,595.02 L462.18,594.44 L463.87,593.86 L465.56,593.27 L467.24,592.69 L468.93,592.11 L470.61,591.52 L472.30,590.94 L473.98,590.36 L475.67,589.78 L477.35,589.19 L479.04,588.61 L480.73,588.03 L482.41,587.44 L484.10,586.86 L485.78,586.28 L487.47,585.70 L489.15,585.11 L490.84,584.53 L492.52,583.95 L494.21,583.36 L495.90,582.78 L497.58,582.20 L499.27,581.62 L500.95,581.03 L502.64,580.45 L504.32,579.87 L506.01,579.28 L507.69,578.70 L509.38,578.12 L511.07,577.54 L512.75,576.95 L514.44,576.37 L516.12,575.79 L517.81,575.20 L519.49,574.62 L521.18,574.04 L522.86,573.46 L524.55,572.87 L526.24,572.29 L527.92,571.71 L529.61,571.13 L531.29,570.54 L532.98,569.96 L534.66,569.38 L536.35,568.79 L538.03,568.21 L539.72,567.63 L541.41,567.05 L543.09,566.46 L544.78,565.88 L546.46,565.30 L548.15,564.71 L549.83,564.13 L551.52,563.55 L553.20,562.97 L554.89,562.38 L556.57,561.80 L558.26,561.22 L559.95,560.63 L561.63,560.05 L563.32,559.47 L565.00,558.89 L566.69,558.30 L568.37,557.72 L570.06,557.14 L571.74,556.55 L573.43,555.97 L575.12,555.39 L576.80,554.81 L578.49,554.22 L580.17,553.64 L581.86,553.06 L583.54,552.47 L585.23,551.89 L586.91,551.31 L588.60,550.73 L590.29,550.14 L591.97,549.56 L593.66,548.98 L595.34,548.40 L597.03,547.81 L598.71,547.23 L600.40,546.65 L602.08,546.06 L603.77,545.48 L605.46,544.90 L607.14,544.32 L608.83,543.73 L610.51,543.15 L612.20,542.57 L613.88,541.98 L615.57,541.40 L617.25,540.82 L618.94,540.24 L620.63,539.65 L622.31,539.07 L624.00,538.49 L625.68,537.90 L627.37,537.32 L629.05,536.74 L630.74,536.16 L632.42,535.57 L634.11,534.99 L635.80,534.41 L637.48,533.82 L639.17,533.24 L640.85,532.66 L642.54,532.08 L644.22,531.49 L645.91,530.91 L647.59,530.33 L649.28,529.74 L650.96,529.16 L652.65,528.58 L654.34,528.00 L656.02,527.41 L657.71,526.83 L659.39,526.25 L661.08,525.67 L662.76,525.08 L664.45,524.50 L666.13,523.92 L667.82,523.33 L669.51,522.75 L671.19,522.17 L672.88,521.59 L674.56,521.00 L676.25,520.42 L677.93,519.84 L679.62,519.25 L681.30,518.67 L682.99,518.09 L684.68,517.51 L686.36,516.92 L688.05,516.34 L689.73,515.76 L691.42,515.17 L693.10,514.59 L694.79,514.01 L696.47,513.43 L698.16,512.84 L699.85,512.26 L701.53,511.68 L703.22,511.09 L704.90,510.51 L706.59,509.93 L708.27,509.35 L709.96,508.76 L711.64,508.18 L713.33,507.60 L715.02,507.01 L716.70,506.43 L718.39,505.85 L720.07,505.27 L721.76,504.68 L723.44,504.10 L725.13,503.52 L726.81,502.94 L728.50,502.35 L730.19,501.77 L731.87,501.19 L733.56,500.60 L735.24,500.02 L736.93,499.44 L738.61,498.86 L740.30,498.27 L741.98,497.69 L743.67,497.11 L745.35,496.52 L747.04,495.94 L748.73,495.36 L750.41,494.78 L752.10,494.19 L753.78,493.61 L755.47,493.03 L757.15,492.44 L758.84,491.86 L760.52,491.28 L762.21,490.70 L763.90,490.11 L765.58,489.53 L767.27,488.95 L768.95,488.36 L770.64,487.78 L772.32,487.20 L774.01,486.62 L775.69,486.03 L777.38,485.45" fill="none" stroke="#ffa500" stroke-width="3.15" clip-path="url(#c2)"/>
<path d="M99.20,25.64 H777.38 V719.95 H99.20 Z M99.20,257.04 H777.38 M99.20,488.46 H777.38" fill="none" stroke="#000" stroke-width="1.55"/>
<polygon points="99.20,725.00 94.40,721.51 96.23,715.86 102.17,715.86 104.00,721.51" fill="none" stroke="#000080" stroke-width="2.45" stroke-linejoin="miter"/>
<polygon points="160.85,693.36 156.05,689.87 157.88,684.23 163.82,684.23 165.66,689.87" fill="none" stroke="#000080" stroke-width="2.45" stroke-linejoin="miter"/>
<polygon points="222.51,673.30 217.70,669.81 219.54,664.17 225.47,664.17 227.31,669.81" fill="none" stroke="#000080" stroke-width="2.45" stroke-linejoin="miter"/>
<polygon points="284.16,656.13 279.36,652.64 281.19,647.00 287.13,647.00 288.96,652.64" fill="none" stroke="#000080" stroke-width="2.45" stroke-linejoin="miter"/>
<polygon points="345.81,640.51 341.01,637.02 342.84,631.37 348.78,631.37 350.61,637.02" fill="none" stroke="#000080" stroke-width="2.45" stroke-linejoin="miter"/>
<polygon points="407.46,626.23 402.66,622.74 404.50,617.10 410.43,617.10 412.27,622.74" fill="none" stroke="#000080" stroke-width="2.45" stroke-linejoin="miter"/>
<polygon points="469.12,612.73 464.31,609.24 466.15,603.59 472.08,603.59 473.92,609.24" fill="none" stroke="#000080" stroke-width="2.45" stroke-linejoin="miter"/>
<polygon points="530.77,600.38 525.97,596.89 527.80,591.25 533.74,591.25 535.57,596.89" fill="none" stroke="#000080" stroke-width="2.45" stroke-linejoin="miter"/>
<polygon points="592.42,588.04 587.62,584.55 589.45,578.90 595.39,578.90 597.22,584.55" fill="none" stroke="#000080" stroke-width="2.45" stroke-linejoin="miter"/>
<polygon points="654.07,576.07 649.27,572.59 651.11,566.94 657.04,566.94 658.88,572.59" fill="none" stroke="#000080" stroke-width="2.45" stroke-linejoin="miter"/>
<polygon points="715.73,565.27 710.92,561.78 712.76,556.14 718.70,556.14 720.53,561.78" fill="none" stroke="#000080" stroke-width="2.45" stroke-linejoin="miter"/>
<polygon points="777.38,553.70 772.58,550.21 774.41,544.56 780.35,544.56 782.18,550.21" fill="none" stroke="#000080" stroke-width="2.45" stroke-linejoin="miter"/>
<rect x="127.55" y="51.00" width="205.80" height="88.45" fill="#fff" stroke="#000" stroke-width="1.3"/>
<rect x="255.4" y="59.35" width="64.4" height="12.5" fill="#e4e4e4"/>
<rect x="255.4" y="88.95" width="64.4" height="12.5" fill="#f0e68c"/>
<rect x="255.4" y="118.45" width="64.4" height="12.5" fill="#e0ffff"/>
<rect x="127.65" y="261.75" width="192.05" height="147.40" fill="#fff" stroke="#000" stroke-width="1.3"/>
<path d="M242,276.50 H306.1" fill="none" stroke="#ffa500" stroke-width="3.15"/>
<path d="M242,306.10 H306.1" fill="none" stroke="#228b22" stroke-width="2.40" stroke-dasharray="7.0,2.42"/>
<path d="M242,335.60 H306.1" fill="none" stroke="#4169e1" stroke-width="2.40" stroke-dasharray="6.8,2.2,1.4,2.2,6.8,2.1"/>
<path d="M242,365.15 H306.1" fill="none" stroke="#ff00ff" stroke-width="2.40" stroke-dasharray="7,2.1,1.4,2.5,1.4,2.1,7,1.6"/>
<path d="M242,394.70 H306.1" fill="none" stroke="#1e90ff" stroke-width="1.25"/>
<rect x="124.00" y="514.00" width="185.30" height="118.20" fill="#fff" stroke="#000" stroke-width="1.3"/>
<polygon points="264.10,533.95 259.30,530.46 261.13,524.81 267.07,524.81 268.90,530.46" fill="none" stroke="#000080" stroke-width="2.45" stroke-linejoin="miter"/>
<rect x="231.8" y="552.0" width="64.4" height="12.7" fill="#7fffd4"/>
<path d="M231.8,587.8 H296.2" stroke="#2e8b57" stroke-width="1.45" stroke-dasharray="6.9,2.5" fill="none"/>
<circle cx="264" cy="587.8" r="3.0" fill="#2e8b57"/>
<path d="M231.8,617.3 H296.2" stroke="#31638a" stroke-width="1.45" stroke-dasharray="2.5,2.35" fill="none"/>
<rect x="261.2" y="614.5" width="5.6" height="5.6" fill="#31638a"/>
<g opacity="0.996" stroke="#000" stroke-width="0.3" stroke-linejoin="round">
<text transform="translate(215.91,73.40) scale(0.9533,1)" font-size="16.06" fill="#000">HIC</text>
<text transform="translate(185.33,132.50) scale(1.0108,1)" font-size="16.06" fill="#000">IBUU04</text>
<text transform="translate(146.08,102.80) scale(1.0011,1)" font-size="16.06" fill="#000">EDP in</text>
<text transform="translate(200.21,97.70) scale(1.1627,1)" font-size="11.74" fill="#000">208</text>
<text transform="translate(223.31,102.80) scale(0.9431,1)" font-size="16.06" fill="#000">Pb</text>
<text transform="translate(207.71,284.35) scale(0.9361,1)" font-size="16.06" fill="#000">RH</text>
<text transform="translate(198.25,313.95) scale(0.9254,1)" font-size="16.06" fill="#000">RHF</text>
<text transform="translate(150.53,343.45) scale(1.0018,1)" font-size="16.06" fill="#000">ERHF(low)</text>
<text transform="translate(143.24,373.00) scale(1.0140,1)" font-size="16.06" fill="#000">ERHF(high)</text>
<text transform="translate(196.56,402.55) scale(0.9791,1)" font-size="16.06" fill="#000">Free</text>
<text transform="translate(161.89,536.80) scale(1.0250,1)" font-size="16.06" fill="#000">ImQMD</text>
<text transform="translate(199.00,566.20) scale(1.0104,1)" font-size="16.06" fill="#000">2σ</text>
<text transform="translate(147.36,595.60) scale(1.0269,1)" font-size="16.06" fill="#000">RHF (dir.)</text>
<text transform="translate(137.65,625.00) scale(1.0106,1)" font-size="16.06" fill="#000">ERHF (dir.)</text>
<text transform="translate(44.96,33.84) scale(1.0698,1)" font-size="22.63" fill="#000">120</text>
<text transform="translate(44.96,72.41) scale(1.0698,1)" font-size="22.63" fill="#000">100</text>
<text transform="translate(58.66,110.97) scale(1.0601,1)" font-size="22.63" fill="#000">80</text>
<text transform="translate(58.52,149.54) scale(1.0658,1)" font-size="22.63" fill="#000">60</text>
<text transform="translate(58.74,188.11) scale(1.0567,1)" font-size="22.63" fill="#000">40</text>
<text transform="translate(58.61,226.67) scale(1.0621,1)" font-size="22.63" fill="#000">20</text>
<text transform="translate(58.52,265.24) scale(1.0658,1)" font-size="22.63" fill="#000">60</text>
<text transform="translate(58.95,303.81) scale(1.0479,1)" font-size="22.63" fill="#000">50</text>
<text transform="translate(58.74,342.38) scale(1.0567,1)" font-size="22.63" fill="#000">40</text>
<text transform="translate(58.98,380.95) scale(1.0468,1)" font-size="22.63" fill="#000">30</text>
<text transform="translate(58.61,419.52) scale(1.0621,1)" font-size="22.63" fill="#000">20</text>
<text transform="translate(58.79,458.09) scale(1.0546,1)" font-size="22.63" fill="#000">10</text>
<text transform="translate(58.52,496.66) scale(1.0658,1)" font-size="22.63" fill="#000">60</text>
<text transform="translate(58.95,535.24) scale(1.0479,1)" font-size="22.63" fill="#000">50</text>
<text transform="translate(58.74,573.82) scale(1.0567,1)" font-size="22.63" fill="#000">40</text>
<text transform="translate(58.98,612.41) scale(1.0468,1)" font-size="22.63" fill="#000">30</text>
<text transform="translate(58.61,650.99) scale(1.0621,1)" font-size="22.63" fill="#000">20</text>
<text transform="translate(58.79,689.57) scale(1.0546,1)" font-size="22.63" fill="#000">10</text>
<text transform="translate(72.57,728.15) scale(1.0111,1)" font-size="22.63" fill="#000">0</text>
<text transform="translate(82.34,752.10) scale(1.0658,1)" font-size="22.63" fill="#000">0.0</text>
<text transform="translate(195.66,752.10) scale(1.0546,1)" font-size="22.63" fill="#000">0.1</text>
<text transform="translate(308.78,752.10) scale(1.0500,1)" font-size="22.63" fill="#000">0.2</text>
<text transform="translate(421.58,752.10) scale(1.0597,1)" font-size="22.63" fill="#000">0.3</text>
<text transform="translate(534.35,752.10) scale(1.0653,1)" font-size="22.63" fill="#000">0.4</text>
<text transform="translate(647.73,752.10) scale(1.0527,1)" font-size="22.63" fill="#000">0.5</text>
<text transform="translate(760.48,752.10) scale(1.0723,1)" font-size="22.63" fill="#000">0.6</text>
<text transform="translate(628.16,218.90) scale(0.8920,1)" font-size="30.74" font-style="italic" fill="#000">E</text>
<text transform="translate(647.93,223.00) scale(1.1291,1)" font-size="21.18" fill="#000">sym</text>
<text transform="translate(628.16,450.30) scale(0.8920,1)" font-size="30.74" font-style="italic" fill="#000">E</text>
<text transform="translate(647.93,454.40) scale(1.1291,1)" font-size="21.18" fill="#000">sym</text>
<text transform="translate(648.13,436.10) scale(1.1779,1)" font-size="21.11" fill="#000">kin</text>
<text transform="translate(628.16,681.80) scale(0.8920,1)" font-size="30.74" font-style="italic" fill="#000">E</text>
<text transform="translate(647.93,685.90) scale(1.1291,1)" font-size="21.18" fill="#000">sym</text>
<text transform="translate(648.17,667.60) scale(1.1666,1)" font-size="21.65" fill="#000">pot</text>
<text transform="translate(39.65,440.55) rotate(-90) scale(0.8508,1)" font-size="32.41" font-style="italic" fill="#000">E</text>
<text transform="translate(44.05,421.56) rotate(-90) scale(1.1010,1)" font-size="21.46" fill="#000">sym</text>
<text transform="translate(37.57,363.29) rotate(-90) scale(0.6411,0.7406)" font-size="40.00" fill="#000">(</text>
<text transform="translate(39.80,352.25) rotate(-90) scale(0.9558,1)" font-size="32.56" fill="#000">MeV</text>
<text transform="translate(37.57,284.85) rotate(-90) scale(0.6321,0.7406)" font-size="40.00" fill="#000">)</text>
<text transform="translate(373.57,791.40) scale(0.8988,1)" font-size="32.71" font-style="italic" fill="#000">ρ</text>
<text transform="translate(391.55,796.10) scale(0.9611,1)" font-size="21.95" font-style="italic" fill="#000">B</text>
<text transform="translate(420.16,790.02) scale(0.6600,0.7218)" font-size="40.00" fill="#000">(</text>
<text transform="translate(431.08,791.50) scale(1.1681,1)" font-size="31.23" fill="#000">fm</text>
<text transform="translate(471.58,780.10) scale(1.0914,1)" font-size="21.05" fill="#000">-3</text>
<text transform="translate(494.75,790.02) scale(0.6509,0.7218)" font-size="40.00" fill="#000">)</text>
</g>
</svg>
</body>
</html>
